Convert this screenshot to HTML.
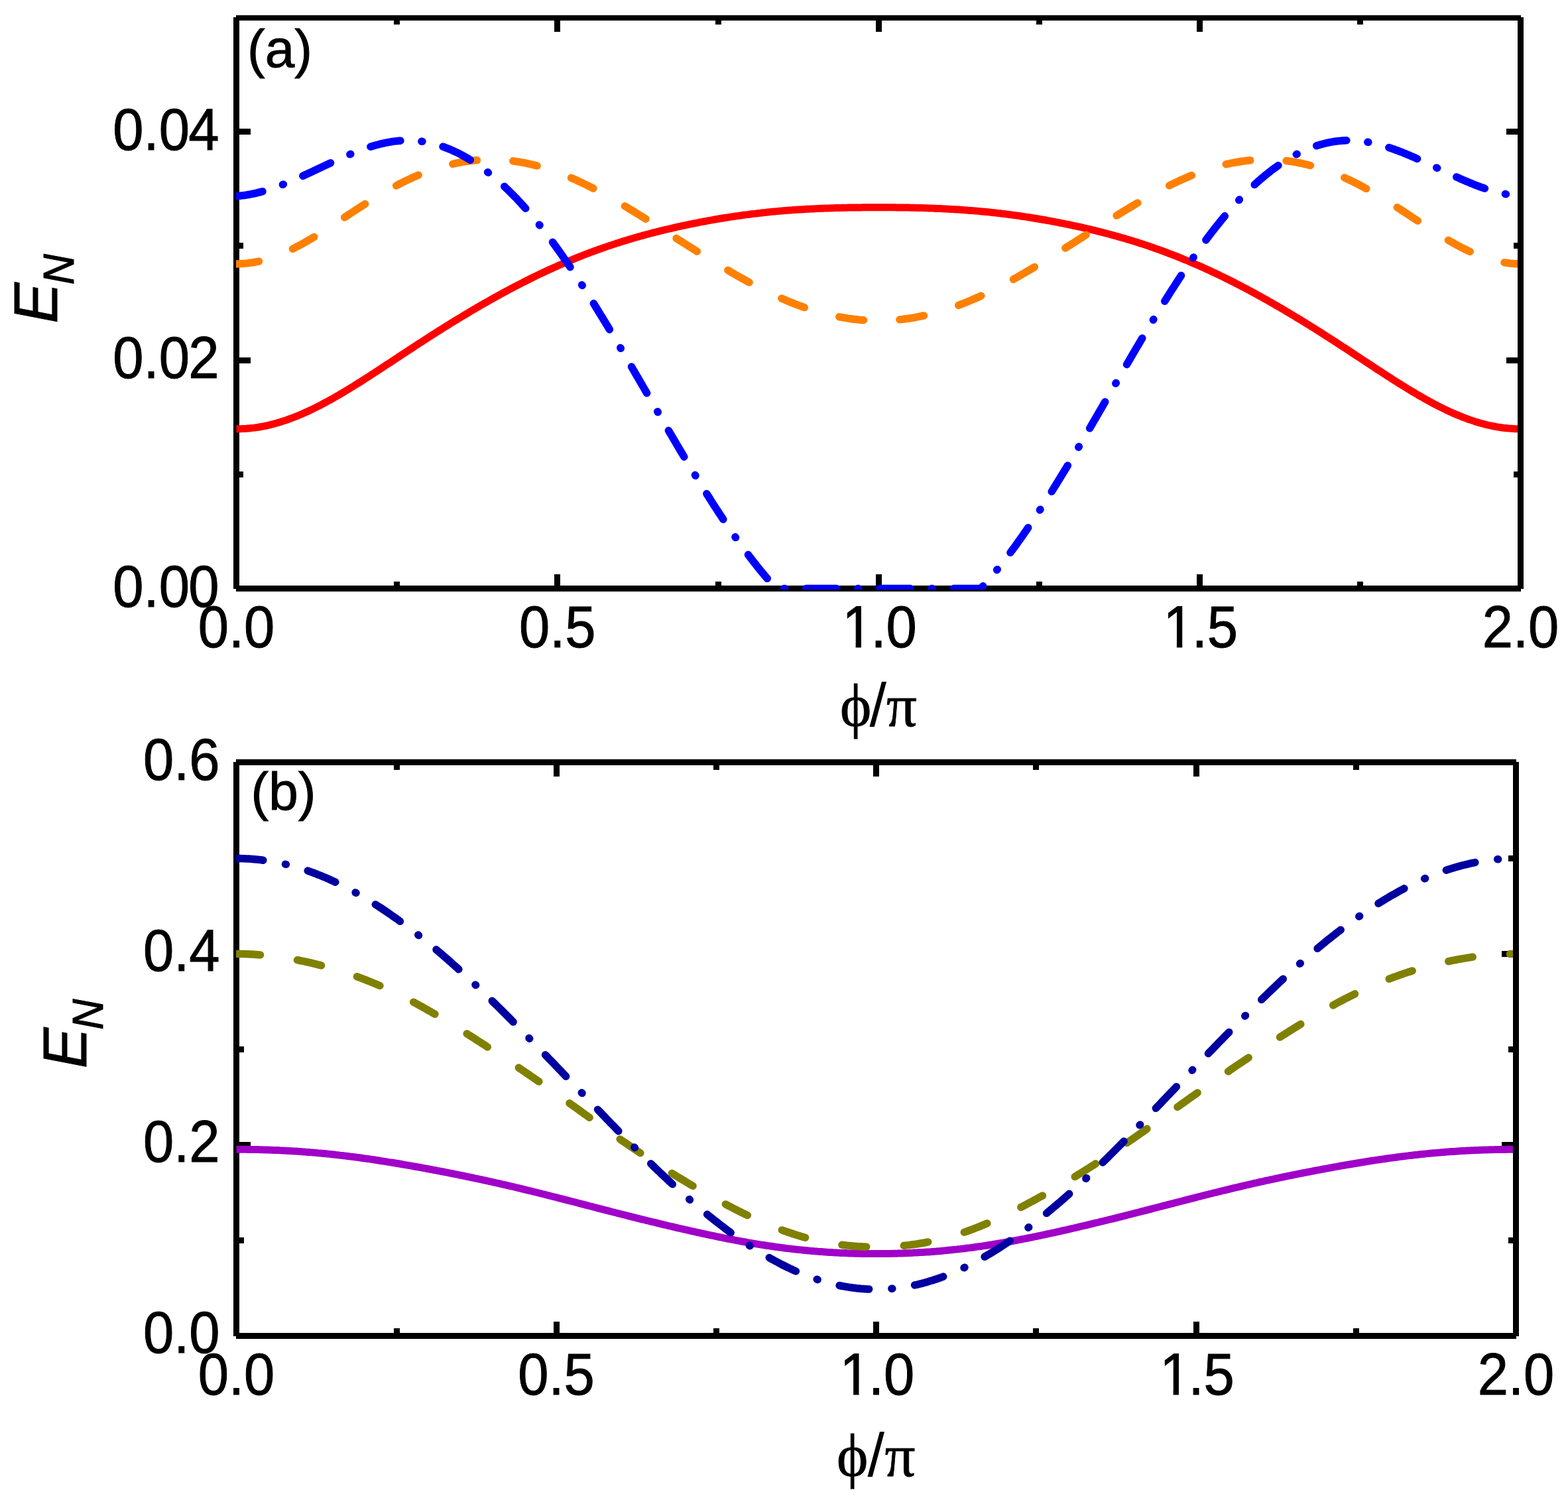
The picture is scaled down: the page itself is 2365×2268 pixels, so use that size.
<!DOCTYPE html>
<html><head><meta charset="utf-8"><title>E_N vs phi/pi</title>
<style>html,body{margin:0;padding:0;background:#fff;overflow:hidden}svg{display:block}.t{font-family:"Liberation Sans",Arial,sans-serif;fill:#000;stroke:#000;stroke-width:1px}.g{font-family:"Liberation Serif","Times New Roman",serif;fill:#000;stroke:#000;stroke-width:0.8px}</style></head><body>
<svg width="2365" height="2268" viewBox="0 0 2365 2268">
<rect width="2365" height="2268" fill="#fff"/>
<defs>
<clipPath id="ca"><rect x="356" y="26" width="1933" height="863"/></clipPath>
<clipPath id="cb"><rect x="356" y="1149" width="1926" height="867"/></clipPath>
<clipPath id="one"><path clip-rule="evenodd" d="M-200,-200H200V200H-200Z M-80,-7.9H-36.35V5H-80Z M-27.55,-7.9H-8V5H-27.55Z"/></clipPath>
</defs>
<g fill="#000"><rect x="356" y="23" width="1938" height="8"/><rect x="352" y="26" width="9" height="862"/><rect x="2289" y="26" width="9" height="862"/><rect x="356" y="883" width="1938" height="9"/><rect x="361" y="539" width="17" height="9"/><rect x="2272" y="539" width="17" height="9"/><rect x="361" y="194" width="17" height="9"/><rect x="2272" y="194" width="17" height="9"/><rect x="361" y="711" width="6" height="9"/><rect x="2283" y="711" width="6" height="9"/><rect x="361" y="366" width="6" height="9"/><rect x="2283" y="366" width="6" height="9"/><rect x="836" y="866" width="9" height="17"/><rect x="836" y="31" width="9" height="17"/><rect x="1321" y="866" width="9" height="17"/><rect x="1321" y="31" width="9" height="17"/><rect x="1805" y="866" width="9" height="17"/><rect x="1805" y="31" width="9" height="17"/><rect x="594" y="877" width="9" height="6"/><rect x="594" y="31" width="9" height="6"/><rect x="1079" y="877" width="9" height="6"/><rect x="1079" y="31" width="9" height="6"/><rect x="1563" y="877" width="9" height="6"/><rect x="1563" y="31" width="9" height="6"/><rect x="2047" y="877" width="9" height="6"/><rect x="2047" y="31" width="9" height="6"/></g>
<g fill="#000"><rect x="356" y="1145" width="1931" height="9"/><rect x="352" y="1149" width="9" height="866"/><rect x="2282" y="1149" width="9" height="866"/><rect x="356" y="2010" width="1931" height="9"/><rect x="361" y="1722" width="17" height="9"/><rect x="2265" y="1722" width="17" height="9"/><rect x="361" y="1434" width="17" height="9"/><rect x="2265" y="1434" width="17" height="9"/><rect x="361" y="1866" width="7" height="9"/><rect x="2275" y="1866" width="7" height="9"/><rect x="361" y="1578" width="7" height="9"/><rect x="2275" y="1578" width="7" height="9"/><rect x="361" y="1290" width="7" height="9"/><rect x="2275" y="1290" width="7" height="9"/><rect x="835" y="1993" width="9" height="17"/><rect x="835" y="1154" width="9" height="17"/><rect x="1317" y="1993" width="9" height="17"/><rect x="1317" y="1154" width="9" height="17"/><rect x="1800" y="1993" width="9" height="17"/><rect x="1800" y="1154" width="9" height="17"/><rect x="594" y="2003" width="9" height="7"/><rect x="594" y="1154" width="9" height="7"/><rect x="1076" y="2003" width="9" height="7"/><rect x="1076" y="1154" width="9" height="7"/><rect x="1558" y="2003" width="9" height="7"/><rect x="1558" y="1154" width="9" height="7"/><rect x="2041" y="2003" width="9" height="7"/><rect x="2041" y="1154" width="9" height="7"/></g>
<path clip-path="url(#ca)" d="M356.5,646.8 L359.5,646.8 L362.5,646.7 L365.5,646.6 L368.5,646.5 L371.5,646.3 L374.5,646.0 L377.5,645.7 L380.5,645.4 L383.5,645.1 L386.5,644.6 L389.5,644.2 L392.5,643.7 L395.5,643.2 L398.5,642.6 L401.5,642.0 L404.5,641.3 L407.5,640.6 L410.5,639.8 L413.5,639.1 L416.5,638.2 L419.5,637.4 L422.5,636.5 L425.5,635.5 L428.5,634.6 L431.5,633.6 L434.5,632.5 L437.5,631.4 L440.5,630.3 L443.5,629.2 L446.5,628.0 L449.5,626.8 L452.5,625.5 L455.5,624.2 L458.5,622.9 L461.5,621.6 L464.5,620.2 L467.5,618.8 L470.5,617.4 L473.5,615.9 L476.5,614.4 L479.5,612.9 L482.5,611.4 L485.5,609.8 L488.5,608.2 L491.5,606.6 L494.5,605.0 L497.5,603.3 L500.5,601.7 L503.5,600.0 L506.5,598.3 L509.5,596.5 L512.5,594.8 L515.5,593.0 L518.5,591.2 L521.5,589.4 L524.5,587.6 L527.5,585.8 L530.5,583.9 L533.5,582.1 L536.5,580.2 L539.5,578.3 L542.5,576.5 L545.5,574.6 L548.5,572.6 L551.5,570.7 L554.5,568.8 L557.5,566.9 L560.5,564.9 L563.5,563.0 L566.5,561.0 L569.5,559.1 L572.5,557.1 L575.5,555.2 L578.5,553.2 L581.5,551.2 L584.5,549.2 L587.5,547.3 L590.5,545.3 L593.5,543.3 L596.5,541.3 L599.5,539.4 L602.5,537.4 L605.5,535.4 L608.5,533.4 L611.5,531.5 L614.5,529.5 L617.5,527.5 L620.5,525.6 L623.5,523.6 L626.5,521.6 L629.5,519.7 L632.5,517.7 L635.5,515.8 L638.5,513.8 L641.5,511.9 L644.5,510.0 L647.5,508.0 L650.5,506.1 L653.5,504.2 L656.5,502.3 L659.5,500.4 L662.5,498.5 L665.5,496.6 L668.5,494.7 L671.5,492.8 L674.5,491.0 L677.5,489.1 L680.5,487.2 L683.5,485.4 L686.5,483.5 L689.5,481.7 L692.5,479.9 L695.5,478.1 L698.5,476.3 L701.5,474.5 L704.5,472.7 L707.5,470.9 L710.5,469.1 L713.5,467.3 L716.5,465.6 L719.5,463.8 L722.5,462.1 L725.5,460.3 L728.5,458.6 L731.5,456.9 L734.5,455.2 L737.5,453.5 L740.5,451.8 L743.5,450.1 L746.5,448.4 L749.5,446.8 L752.5,445.1 L755.5,443.5 L758.5,441.8 L761.5,440.2 L764.5,438.6 L767.5,437.0 L770.5,435.4 L773.5,433.8 L776.5,432.2 L779.5,430.7 L782.5,429.1 L785.5,427.6 L788.5,426.0 L791.5,424.5 L794.5,423.0 L797.5,421.5 L800.5,420.0 L803.5,418.5 L806.5,417.1 L809.5,415.6 L812.5,414.2 L815.5,412.7 L818.5,411.3 L821.5,409.9 L824.5,408.5 L827.5,407.1 L830.5,405.7 L833.5,404.4 L836.5,403.0 L839.5,401.7 L842.5,400.3 L845.5,399.0 L848.5,397.7 L851.5,396.4 L854.5,395.1 L857.5,393.9 L860.5,392.6 L863.5,391.4 L866.5,390.1 L869.5,388.9 L872.5,387.7 L875.5,386.5 L878.5,385.3 L881.5,384.2 L884.5,383.0 L887.5,381.9 L890.5,380.7 L893.5,379.6 L896.5,378.5 L899.5,377.4 L902.5,376.3 L905.5,375.3 L908.5,374.2 L911.5,373.2 L914.5,372.1 L917.5,371.1 L920.5,370.1 L923.5,369.1 L926.5,368.1 L929.5,367.1 L932.5,366.2 L935.5,365.2 L938.5,364.3 L941.5,363.3 L944.5,362.4 L947.5,361.5 L950.5,360.6 L953.5,359.7 L956.5,358.8 L959.5,358.0 L962.5,357.1 L965.5,356.3 L968.5,355.4 L971.5,354.6 L974.5,353.8 L977.5,353.0 L980.5,352.2 L983.5,351.4 L986.5,350.6 L989.5,349.9 L992.5,349.1 L995.5,348.4 L998.5,347.6 L1001.5,346.9 L1004.5,346.2 L1007.5,345.5 L1010.5,344.8 L1013.5,344.1 L1016.5,343.4 L1019.5,342.7 L1022.5,342.0 L1025.5,341.4 L1028.5,340.7 L1031.5,340.1 L1034.5,339.4 L1037.5,338.8 L1040.5,338.2 L1043.5,337.6 L1046.5,337.0 L1049.5,336.4 L1052.5,335.8 L1055.5,335.2 L1058.5,334.6 L1061.5,334.0 L1064.5,333.5 L1067.5,332.9 L1070.5,332.4 L1073.5,331.9 L1076.5,331.3 L1079.5,330.8 L1082.5,330.3 L1085.5,329.8 L1088.5,329.3 L1091.5,328.8 L1094.5,328.3 L1097.5,327.9 L1100.5,327.4 L1103.5,326.9 L1106.5,326.5 L1109.5,326.0 L1112.5,325.6 L1115.5,325.2 L1118.5,324.8 L1121.5,324.3 L1124.5,323.9 L1127.5,323.6 L1130.5,323.2 L1133.5,322.8 L1136.5,322.4 L1139.5,322.1 L1142.5,321.7 L1145.5,321.4 L1148.5,321.0 L1151.5,320.7 L1154.5,320.4 L1157.5,320.0 L1160.5,319.7 L1163.5,319.4 L1166.5,319.1 L1169.5,318.9 L1172.5,318.6 L1175.5,318.3 L1178.5,318.1 L1181.5,317.8 L1184.5,317.6 L1187.5,317.3 L1190.5,317.1 L1193.5,316.9 L1196.5,316.6 L1199.5,316.4 L1202.5,316.2 L1205.5,316.0 L1208.5,315.9 L1211.5,315.7 L1214.5,315.5 L1217.5,315.3 L1220.5,315.2 L1223.5,315.0 L1226.5,314.9 L1229.5,314.7 L1232.5,314.6 L1235.5,314.4 L1238.5,314.3 L1241.5,314.2 L1244.5,314.1 L1247.5,314.0 L1250.5,313.9 L1253.5,313.8 L1256.5,313.7 L1259.5,313.6 L1262.5,313.5 L1265.5,313.4 L1268.5,313.4 L1271.5,313.3 L1274.5,313.2 L1277.5,313.2 L1280.5,313.1 L1283.5,313.1 L1286.5,313.0 L1289.5,313.0 L1292.5,312.9 L1295.5,312.9 L1298.5,312.9 L1301.5,312.8 L1304.5,312.8 L1307.5,312.8 L1310.5,312.8 L1313.5,312.7 L1316.5,312.7 L1319.5,312.7 L1322.5,312.7 L1325.5,312.7 L1328.5,312.7 L1331.5,312.7 L1334.5,312.7 L1337.5,312.7 L1340.5,312.8 L1343.5,312.8 L1346.5,312.8 L1349.5,312.8 L1352.5,312.9 L1355.5,312.9 L1358.5,312.9 L1361.5,313.0 L1364.5,313.0 L1367.5,313.1 L1370.5,313.1 L1373.5,313.2 L1376.5,313.2 L1379.5,313.3 L1382.5,313.4 L1385.5,313.5 L1388.5,313.5 L1391.5,313.6 L1394.5,313.7 L1397.5,313.8 L1400.5,313.9 L1403.5,314.0 L1406.5,314.1 L1409.5,314.2 L1412.5,314.4 L1415.5,314.5 L1418.5,314.6 L1421.5,314.8 L1424.5,314.9 L1427.5,315.1 L1430.5,315.2 L1433.5,315.4 L1436.5,315.6 L1439.5,315.7 L1442.5,315.9 L1445.5,316.1 L1448.5,316.3 L1451.5,316.5 L1454.5,316.7 L1457.5,316.9 L1460.5,317.2 L1463.5,317.4 L1466.5,317.6 L1469.5,317.9 L1472.5,318.1 L1475.5,318.4 L1478.5,318.7 L1481.5,319.0 L1484.5,319.2 L1487.5,319.5 L1490.5,319.8 L1493.5,320.1 L1496.5,320.5 L1499.5,320.8 L1502.5,321.1 L1505.5,321.5 L1508.5,321.8 L1511.5,322.2 L1514.5,322.5 L1517.5,322.9 L1520.5,323.3 L1523.5,323.7 L1526.5,324.1 L1529.5,324.5 L1532.5,324.9 L1535.5,325.3 L1538.5,325.7 L1541.5,326.2 L1544.5,326.6 L1547.5,327.1 L1550.5,327.5 L1553.5,328.0 L1556.5,328.5 L1559.5,329.0 L1562.5,329.5 L1565.5,330.0 L1568.5,330.5 L1571.5,331.0 L1574.5,331.5 L1577.5,332.0 L1580.5,332.6 L1583.5,333.1 L1586.5,333.7 L1589.5,334.2 L1592.5,334.8 L1595.5,335.4 L1598.5,336.0 L1601.5,336.6 L1604.5,337.2 L1607.5,337.8 L1610.5,338.4 L1613.5,339.0 L1616.5,339.6 L1619.5,340.3 L1622.5,340.9 L1625.5,341.6 L1628.5,342.2 L1631.5,342.9 L1634.5,343.6 L1637.5,344.3 L1640.5,345.0 L1643.5,345.7 L1646.5,346.4 L1649.5,347.1 L1652.5,347.9 L1655.5,348.6 L1658.5,349.4 L1661.5,350.1 L1664.5,350.9 L1667.5,351.7 L1670.5,352.5 L1673.5,353.3 L1676.5,354.1 L1679.5,354.9 L1682.5,355.7 L1685.5,356.6 L1688.5,357.4 L1691.5,358.3 L1694.5,359.1 L1697.5,360.0 L1700.5,360.9 L1703.5,361.8 L1706.5,362.7 L1709.5,363.6 L1712.5,364.6 L1715.5,365.5 L1718.5,366.5 L1721.5,367.4 L1724.5,368.4 L1727.5,369.4 L1730.5,370.4 L1733.5,371.4 L1736.5,372.5 L1739.5,373.5 L1742.5,374.6 L1745.5,375.6 L1748.5,376.7 L1751.5,377.8 L1754.5,378.9 L1757.5,380.0 L1760.5,381.1 L1763.5,382.3 L1766.5,383.4 L1769.5,384.6 L1772.5,385.7 L1775.5,386.9 L1778.5,388.1 L1781.5,389.3 L1784.5,390.6 L1787.5,391.8 L1790.5,393.0 L1793.5,394.3 L1796.5,395.6 L1799.5,396.9 L1802.5,398.2 L1805.5,399.5 L1808.5,400.8 L1811.5,402.1 L1814.5,403.5 L1817.5,404.8 L1820.5,406.2 L1823.5,407.6 L1826.5,409.0 L1829.5,410.4 L1832.5,411.8 L1835.5,413.2 L1838.5,414.6 L1841.5,416.1 L1844.5,417.6 L1847.5,419.0 L1850.5,420.5 L1853.5,422.0 L1856.5,423.5 L1859.5,425.0 L1862.5,426.5 L1865.5,428.1 L1868.5,429.6 L1871.5,431.2 L1874.5,432.8 L1877.5,434.3 L1880.5,435.9 L1883.5,437.5 L1886.5,439.1 L1889.5,440.7 L1892.5,442.4 L1895.5,444.0 L1898.5,445.7 L1901.5,447.3 L1904.5,449.0 L1907.5,450.7 L1910.5,452.3 L1913.5,454.0 L1916.5,455.7 L1919.5,457.5 L1922.5,459.2 L1925.5,460.9 L1928.5,462.6 L1931.5,464.4 L1934.5,466.1 L1937.5,467.9 L1940.5,469.7 L1943.5,471.5 L1946.5,473.3 L1949.5,475.1 L1952.5,476.9 L1955.5,478.7 L1958.5,480.5 L1961.5,482.3 L1964.5,484.2 L1967.5,486.0 L1970.5,487.9 L1973.5,489.7 L1976.5,491.6 L1979.5,493.5 L1982.5,495.3 L1985.5,497.2 L1988.5,499.1 L1991.5,501.0 L1994.5,502.9 L1997.5,504.8 L2000.5,506.8 L2003.5,508.7 L2006.5,510.6 L2009.5,512.5 L2012.5,514.5 L2015.5,516.4 L2018.5,518.4 L2021.5,520.3 L2024.5,522.3 L2027.5,524.2 L2030.5,526.2 L2033.5,528.2 L2036.5,530.1 L2039.5,532.1 L2042.5,534.1 L2045.5,536.1 L2048.5,538.0 L2051.5,540.0 L2054.5,542.0 L2057.5,544.0 L2060.5,546.0 L2063.5,547.9 L2066.5,549.9 L2069.5,551.9 L2072.5,553.8 L2075.5,555.8 L2078.5,557.8 L2081.5,559.7 L2084.5,561.7 L2087.5,563.6 L2090.5,565.6 L2093.5,567.5 L2096.5,569.4 L2099.5,571.4 L2102.5,573.3 L2105.5,575.2 L2108.5,577.1 L2111.5,579.0 L2114.5,580.8 L2117.5,582.7 L2120.5,584.6 L2123.5,586.4 L2126.5,588.2 L2129.5,590.0 L2132.5,591.8 L2135.5,593.6 L2138.5,595.4 L2141.5,597.1 L2144.5,598.8 L2147.5,600.5 L2150.5,602.2 L2153.5,603.9 L2156.5,605.5 L2159.5,607.2 L2162.5,608.8 L2165.5,610.3 L2168.5,611.9 L2171.5,613.4 L2174.5,614.9 L2177.5,616.4 L2180.5,617.9 L2183.5,619.3 L2186.5,620.7 L2189.5,622.0 L2192.5,623.4 L2195.5,624.7 L2198.5,625.9 L2201.5,627.2 L2204.5,628.4 L2207.5,629.6 L2210.5,630.7 L2213.5,631.8 L2216.5,632.9 L2219.5,633.9 L2222.5,634.9 L2225.5,635.9 L2228.5,636.8 L2231.5,637.7 L2234.5,638.5 L2237.5,639.3 L2240.5,640.1 L2243.5,640.8 L2246.5,641.5 L2249.5,642.2 L2252.5,642.8 L2255.5,643.3 L2258.5,643.9 L2261.5,644.3 L2264.5,644.8 L2267.5,645.2 L2270.5,645.5 L2273.5,645.8 L2276.5,646.1 L2279.5,646.3 L2282.5,646.5 L2285.5,646.7 L2288.5,646.8 L2291.5,646.8 L2293.5,646.8" fill="none" stroke="#ff0000" stroke-width="11" stroke-linejoin="round" stroke-linecap="butt"/>
<path clip-path="url(#ca)" d="M356.5,397.9 L359.5,397.9 L362.5,397.8 L365.5,397.6 L368.5,397.4 L371.5,397.1 L374.5,396.8 L377.5,396.4 L380.5,396.0 L383.5,395.5 L386.5,394.9 L389.5,394.3 L392.5,393.6 L395.5,392.9 L398.5,392.1 L401.5,391.2 L404.5,390.3 L407.5,389.4 L410.5,388.4 L413.5,387.3 L416.5,386.2 L419.5,385.1 L422.5,383.9 L425.5,382.6 L428.5,381.4 L431.5,380.0 L434.5,378.6 L437.5,377.2 L440.5,375.8 L443.5,374.3 L446.5,372.7 L449.5,371.2 L452.5,369.6 L455.5,367.9 L458.5,366.3 L461.5,364.6 L464.5,362.8 L467.5,361.1 L470.5,359.3 L473.5,357.5 L476.5,355.7 L479.5,353.8 L482.5,351.9 L485.5,350.1 L488.5,348.2 L491.5,346.2 L494.5,344.3 L497.5,342.4 L500.5,340.4 L503.5,338.5 L506.5,336.5 L509.5,334.5 L512.5,332.5 L515.5,330.6 L518.5,328.6 L521.5,326.6 L524.5,324.6 L527.5,322.6 L530.5,320.7 L533.5,318.7 L536.5,316.7 L539.5,314.8 L542.5,312.8 L545.5,310.9 L548.5,309.0 L551.5,307.1 L554.5,305.2 L557.5,303.3 L560.5,301.4 L563.5,299.6 L566.5,297.7 L569.5,295.9 L572.5,294.1 L575.5,292.3 L578.5,290.6 L581.5,288.9 L584.5,287.2 L587.5,285.5 L590.5,283.8 L593.5,282.2 L596.5,280.6 L599.5,279.0 L602.5,277.4 L605.5,275.9 L608.5,274.4 L611.5,272.9 L614.5,271.5 L617.5,270.1 L620.5,268.7 L623.5,267.3 L626.5,266.0 L629.5,264.7 L632.5,263.5 L635.5,262.2 L638.5,261.0 L641.5,259.9 L644.5,258.7 L647.5,257.7 L650.5,256.6 L653.5,255.6 L656.5,254.6 L659.5,253.6 L662.5,252.7 L665.5,251.8 L668.5,250.9 L671.5,250.1 L674.5,249.3 L677.5,248.5 L680.5,247.8 L683.5,247.1 L686.5,246.4 L689.5,245.8 L692.5,245.2 L695.5,244.7 L698.5,244.2 L701.5,243.7 L704.5,243.2 L707.5,242.8 L710.5,242.5 L713.5,242.1 L716.5,241.8 L719.5,241.6 L722.5,241.3 L725.5,241.1 L728.5,241.0 L731.5,240.8 L734.5,240.7 L737.5,240.7 L740.5,240.7 L743.5,240.7 L746.5,240.7 L749.5,240.8 L752.5,241.0 L755.5,241.1 L758.5,241.3 L761.5,241.5 L764.5,241.8 L767.5,242.1 L770.5,242.4 L773.5,242.8 L776.5,243.2 L779.5,243.6 L782.5,244.1 L785.5,244.6 L788.5,245.2 L791.5,245.7 L794.5,246.4 L797.5,247.0 L800.5,247.7 L803.5,248.4 L806.5,249.1 L809.5,249.9 L812.5,250.7 L815.5,251.6 L818.5,252.4 L821.5,253.3 L824.5,254.3 L827.5,255.2 L830.5,256.2 L833.5,257.3 L836.5,258.3 L839.5,259.4 L842.5,260.5 L845.5,261.7 L848.5,262.8 L851.5,264.0 L854.5,265.3 L857.5,266.5 L860.5,267.8 L863.5,269.1 L866.5,270.4 L869.5,271.8 L872.5,273.2 L875.5,274.6 L878.5,276.0 L881.5,277.4 L884.5,278.9 L887.5,280.4 L890.5,281.9 L893.5,283.4 L896.5,285.0 L899.5,286.6 L902.5,288.2 L905.5,289.8 L908.5,291.4 L911.5,293.0 L914.5,294.7 L917.5,296.4 L920.5,298.1 L923.5,299.8 L926.5,301.5 L929.5,303.2 L932.5,305.0 L935.5,306.7 L938.5,308.5 L941.5,310.3 L944.5,312.1 L947.5,313.9 L950.5,315.7 L953.5,317.5 L956.5,319.3 L959.5,321.2 L962.5,323.0 L965.5,324.9 L968.5,326.7 L971.5,328.6 L974.5,330.5 L977.5,332.4 L980.5,334.2 L983.5,336.1 L986.5,338.0 L989.5,339.9 L992.5,341.8 L995.5,343.7 L998.5,345.6 L1001.5,347.5 L1004.5,349.4 L1007.5,351.3 L1010.5,353.3 L1013.5,355.2 L1016.5,357.1 L1019.5,359.0 L1022.5,360.9 L1025.5,362.8 L1028.5,364.7 L1031.5,366.6 L1034.5,368.5 L1037.5,370.4 L1040.5,372.3 L1043.5,374.2 L1046.5,376.1 L1049.5,378.0 L1052.5,379.9 L1055.5,381.8 L1058.5,383.6 L1061.5,385.5 L1064.5,387.4 L1067.5,389.2 L1070.5,391.1 L1073.5,392.9 L1076.5,394.8 L1079.5,396.6 L1082.5,398.4 L1085.5,400.2 L1088.5,402.0 L1091.5,403.8 L1094.5,405.6 L1097.5,407.4 L1100.5,409.1 L1103.5,410.9 L1106.5,412.6 L1109.5,414.4 L1112.5,416.1 L1115.5,417.8 L1118.5,419.5 L1121.5,421.1 L1124.5,422.8 L1127.5,424.5 L1130.5,426.1 L1133.5,427.7 L1136.5,429.3 L1139.5,430.9 L1142.5,432.5 L1145.5,434.0 L1148.5,435.6 L1151.5,437.1 L1154.5,438.6 L1157.5,440.0 L1160.5,441.5 L1163.5,442.9 L1166.5,444.4 L1169.5,445.8 L1172.5,447.1 L1175.5,448.5 L1178.5,449.8 L1181.5,451.2 L1184.5,452.4 L1187.5,453.7 L1190.5,455.0 L1193.5,456.2 L1196.5,457.4 L1199.5,458.6 L1202.5,459.7 L1205.5,460.8 L1208.5,461.9 L1211.5,463.0 L1214.5,464.1 L1217.5,465.1 L1220.5,466.1 L1223.5,467.1 L1226.5,468.0 L1229.5,468.9 L1232.5,469.8 L1235.5,470.7 L1238.5,471.5 L1241.5,472.3 L1244.5,473.1 L1247.5,473.9 L1250.5,474.6 L1253.5,475.3 L1256.5,476.0 L1259.5,476.6 L1262.5,477.2 L1265.5,477.8 L1268.5,478.4 L1271.5,478.9 L1274.5,479.4 L1277.5,479.9 L1280.5,480.4 L1283.5,480.8 L1286.5,481.2 L1289.5,481.5 L1292.5,481.8 L1295.5,482.2 L1298.5,482.4 L1301.5,482.7 L1304.5,482.9 L1307.5,483.1 L1310.5,483.2 L1313.5,483.3 L1316.5,483.4 L1319.5,483.5 L1322.5,483.6 L1325.5,483.6 L1328.5,483.5 L1331.5,483.5 L1334.5,483.4 L1337.5,483.3 L1340.5,483.2 L1343.5,483.0 L1346.5,482.8 L1349.5,482.6 L1352.5,482.3 L1355.5,482.1 L1358.5,481.7 L1361.5,481.4 L1364.5,481.0 L1367.5,480.6 L1370.5,480.2 L1373.5,479.8 L1376.5,479.3 L1379.5,478.8 L1382.5,478.2 L1385.5,477.6 L1388.5,477.0 L1391.5,476.4 L1394.5,475.8 L1397.5,475.1 L1400.5,474.4 L1403.5,473.6 L1406.5,472.9 L1409.5,472.1 L1412.5,471.3 L1415.5,470.4 L1418.5,469.5 L1421.5,468.6 L1424.5,467.7 L1427.5,466.7 L1430.5,465.8 L1433.5,464.7 L1436.5,463.7 L1439.5,462.7 L1442.5,461.6 L1445.5,460.5 L1448.5,459.3 L1451.5,458.2 L1454.5,457.0 L1457.5,455.8 L1460.5,454.5 L1463.5,453.3 L1466.5,452.0 L1469.5,450.7 L1472.5,449.4 L1475.5,448.1 L1478.5,446.7 L1481.5,445.3 L1484.5,443.9 L1487.5,442.5 L1490.5,441.0 L1493.5,439.6 L1496.5,438.1 L1499.5,436.6 L1502.5,435.0 L1505.5,433.5 L1508.5,431.9 L1511.5,430.4 L1514.5,428.8 L1517.5,427.2 L1520.5,425.5 L1523.5,423.9 L1526.5,422.3 L1529.5,420.6 L1532.5,418.9 L1535.5,417.2 L1538.5,415.5 L1541.5,413.8 L1544.5,412.1 L1547.5,410.3 L1550.5,408.6 L1553.5,406.8 L1556.5,405.0 L1559.5,403.2 L1562.5,401.4 L1565.5,399.6 L1568.5,397.8 L1571.5,396.0 L1574.5,394.2 L1577.5,392.3 L1580.5,390.5 L1583.5,388.6 L1586.5,386.8 L1589.5,384.9 L1592.5,383.0 L1595.5,381.1 L1598.5,379.3 L1601.5,377.4 L1604.5,375.5 L1607.5,373.6 L1610.5,371.7 L1613.5,369.8 L1616.5,367.9 L1619.5,366.0 L1622.5,364.1 L1625.5,362.2 L1628.5,360.3 L1631.5,358.4 L1634.5,356.4 L1637.5,354.5 L1640.5,352.6 L1643.5,350.7 L1646.5,348.8 L1649.5,346.9 L1652.5,345.0 L1655.5,343.1 L1658.5,341.2 L1661.5,339.3 L1664.5,337.4 L1667.5,335.5 L1670.5,333.6 L1673.5,331.7 L1676.5,329.9 L1679.5,328.0 L1682.5,326.1 L1685.5,324.3 L1688.5,322.4 L1691.5,320.6 L1694.5,318.7 L1697.5,316.9 L1700.5,315.1 L1703.5,313.3 L1706.5,311.5 L1709.5,309.7 L1712.5,307.9 L1715.5,306.1 L1718.5,304.4 L1721.5,302.6 L1724.5,300.9 L1727.5,299.2 L1730.5,297.5 L1733.5,295.8 L1736.5,294.1 L1739.5,292.5 L1742.5,290.8 L1745.5,289.2 L1748.5,287.6 L1751.5,286.0 L1754.5,284.5 L1757.5,282.9 L1760.5,281.4 L1763.5,279.9 L1766.5,278.4 L1769.5,276.9 L1772.5,275.5 L1775.5,274.1 L1778.5,272.7 L1781.5,271.3 L1784.5,270.0 L1787.5,268.7 L1790.5,267.4 L1793.5,266.1 L1796.5,264.8 L1799.5,263.6 L1802.5,262.4 L1805.5,261.3 L1808.5,260.1 L1811.5,259.0 L1814.5,258.0 L1817.5,256.9 L1820.5,255.9 L1823.5,254.9 L1826.5,254.0 L1829.5,253.0 L1832.5,252.1 L1835.5,251.3 L1838.5,250.4 L1841.5,249.6 L1844.5,248.9 L1847.5,248.1 L1850.5,247.4 L1853.5,246.8 L1856.5,246.2 L1859.5,245.6 L1862.5,245.0 L1865.5,244.5 L1868.5,244.0 L1871.5,243.5 L1874.5,243.1 L1877.5,242.7 L1880.5,242.3 L1883.5,242.0 L1886.5,241.7 L1889.5,241.5 L1892.5,241.2 L1895.5,241.1 L1898.5,240.9 L1901.5,240.8 L1904.5,240.7 L1907.5,240.7 L1910.5,240.7 L1913.5,240.7 L1916.5,240.8 L1919.5,240.9 L1922.5,241.0 L1925.5,241.2 L1928.5,241.4 L1931.5,241.6 L1934.5,241.9 L1937.5,242.2 L1940.5,242.6 L1943.5,243.0 L1946.5,243.4 L1949.5,243.8 L1952.5,244.3 L1955.5,244.9 L1958.5,245.4 L1961.5,246.0 L1964.5,246.7 L1967.5,247.3 L1970.5,248.0 L1973.5,248.8 L1976.5,249.5 L1979.5,250.3 L1982.5,251.2 L1985.5,252.1 L1988.5,253.0 L1991.5,253.9 L1994.5,254.9 L1997.5,255.9 L2000.5,256.9 L2003.5,258.0 L2006.5,259.1 L2009.5,260.3 L2012.5,261.4 L2015.5,262.6 L2018.5,263.9 L2021.5,265.2 L2024.5,266.5 L2027.5,267.8 L2030.5,269.2 L2033.5,270.5 L2036.5,272.0 L2039.5,273.4 L2042.5,274.9 L2045.5,276.4 L2048.5,277.9 L2051.5,279.5 L2054.5,281.1 L2057.5,282.7 L2060.5,284.4 L2063.5,286.0 L2066.5,287.7 L2069.5,289.4 L2072.5,291.2 L2075.5,292.9 L2078.5,294.7 L2081.5,296.5 L2084.5,298.3 L2087.5,300.2 L2090.5,302.0 L2093.5,303.9 L2096.5,305.8 L2099.5,307.7 L2102.5,309.6 L2105.5,311.5 L2108.5,313.5 L2111.5,315.4 L2114.5,317.4 L2117.5,319.4 L2120.5,321.3 L2123.5,323.3 L2126.5,325.3 L2129.5,327.3 L2132.5,329.2 L2135.5,331.2 L2138.5,333.2 L2141.5,335.2 L2144.5,337.2 L2147.5,339.1 L2150.5,341.1 L2153.5,343.0 L2156.5,345.0 L2159.5,346.9 L2162.5,348.8 L2165.5,350.7 L2168.5,352.6 L2171.5,354.4 L2174.5,356.3 L2177.5,358.1 L2180.5,359.9 L2183.5,361.7 L2186.5,363.4 L2189.5,365.1 L2192.5,366.8 L2195.5,368.5 L2198.5,370.1 L2201.5,371.7 L2204.5,373.3 L2207.5,374.8 L2210.5,376.3 L2213.5,377.7 L2216.5,379.1 L2219.5,380.5 L2222.5,381.8 L2225.5,383.1 L2228.5,384.3 L2231.5,385.5 L2234.5,386.6 L2237.5,387.7 L2240.5,388.7 L2243.5,389.7 L2246.5,390.6 L2249.5,391.5 L2252.5,392.3 L2255.5,393.1 L2258.5,393.8 L2261.5,394.5 L2264.5,395.1 L2267.5,395.6 L2270.5,396.1 L2273.5,396.5 L2276.5,396.9 L2279.5,397.2 L2282.5,397.5 L2285.5,397.7 L2288.5,397.8 L2291.5,397.9 L2293.5,397.9" fill="none" stroke="#ff8000" stroke-width="11.5" stroke-linejoin="round" stroke-dasharray="37 54.55" stroke-dashoffset="2.83" stroke-linecap="round"/>
<path clip-path="url(#ca)" d="M356.5,295.6 L358.5,295.5 L360.5,295.3 L362.5,295.2 L364.5,294.9 L366.5,294.7 L368.5,294.5 L370.5,294.2 L372.5,293.9 L374.5,293.5 L376.5,293.2 L378.5,292.8 L380.5,292.4 L382.5,292.0 L384.5,291.6 L386.5,291.1 L388.5,290.6 L390.5,290.1 L392.5,289.6 L394.5,289.1 L396.5,288.5 L398.5,287.9 L400.5,287.4 L402.5,286.7 L404.5,286.1 L406.5,285.5 L408.5,284.8 L410.5,284.2 L412.5,283.5 L414.5,282.8 L416.5,282.1 L418.5,281.3 L420.5,280.6 L422.5,279.8 L424.5,279.1 L426.5,278.3 L428.5,277.5 L430.5,276.7 L432.5,275.9 L434.5,275.0 L436.5,274.2 L438.5,273.4 L440.5,272.5 L442.5,271.7 L444.5,270.8 L446.5,269.9 L448.5,269.0 L450.5,268.1 L452.5,267.2 L454.5,266.3 L456.5,265.4 L458.5,264.5 L460.5,263.6 L462.5,262.7 L464.5,261.7 L466.5,260.8 L468.5,259.9 L470.5,258.9 L472.5,258.0 L474.5,257.1 L476.5,256.1 L478.5,255.2 L480.5,254.2 L482.5,253.3 L484.5,252.3 L486.5,251.4 L488.5,250.4 L490.5,249.5 L492.5,248.6 L494.5,247.6 L496.5,246.7 L498.5,245.8 L500.5,244.8 L502.5,243.9 L504.5,243.0 L506.5,242.1 L508.5,241.2 L510.5,240.3 L512.5,239.4 L514.5,238.5 L516.5,237.6 L518.5,236.7 L520.5,235.9 L522.5,235.0 L524.5,234.1 L526.5,233.3 L528.5,232.5 L530.5,231.6 L532.5,230.8 L534.5,230.0 L536.5,229.2 L538.5,228.5 L540.5,227.7 L542.5,226.9 L544.5,226.2 L546.5,225.5 L548.5,224.8 L550.5,224.1 L552.5,223.4 L554.5,222.7 L556.5,222.1 L558.5,221.4 L560.5,220.8 L562.5,220.2 L564.5,219.6 L566.5,219.0 L568.5,218.5 L570.5,218.0 L572.5,217.4 L574.5,216.9 L576.5,216.5 L578.5,216.0 L580.5,215.6 L582.5,215.2 L584.5,214.8 L586.5,214.4 L588.5,214.1 L590.5,213.7 L592.5,213.4 L594.5,213.1 L596.5,212.9 L598.5,212.7 L600.5,212.5 L602.5,212.3 L604.5,212.1 L606.5,212.0 L608.5,211.9 L610.5,211.8 L612.5,211.8 L614.5,211.7 L616.5,211.7 L618.5,211.8 L620.5,211.8 L622.5,211.9 L624.5,212.0 L626.5,212.2 L628.5,212.4 L630.5,212.5 L632.5,212.8 L634.5,213.0 L636.5,213.3 L638.5,213.6 L640.5,213.9 L642.5,214.3 L644.5,214.7 L646.5,215.1 L648.5,215.5 L650.5,216.0 L652.5,216.5 L654.5,217.0 L656.5,217.5 L658.5,218.1 L660.5,218.7 L662.5,219.3 L664.5,219.9 L666.5,220.6 L668.5,221.3 L670.5,222.0 L672.5,222.8 L674.5,223.6 L676.5,224.4 L678.5,225.2 L680.5,226.0 L682.5,226.9 L684.5,227.8 L686.5,228.8 L688.5,229.7 L690.5,230.7 L692.5,231.7 L694.5,232.7 L696.5,233.8 L698.5,234.9 L700.5,236.0 L702.5,237.1 L704.5,238.3 L706.5,239.5 L708.5,240.7 L710.5,241.9 L712.5,243.2 L714.5,244.5 L716.5,245.8 L718.5,247.1 L720.5,248.5 L722.5,249.9 L724.5,251.3 L726.5,252.8 L728.5,254.2 L730.5,255.7 L732.5,257.2 L734.5,258.8 L736.5,260.3 L738.5,261.9 L740.5,263.5 L742.5,265.2 L744.5,266.8 L746.5,268.5 L748.5,270.2 L750.5,272.0 L752.5,273.7 L754.5,275.5 L756.5,277.3 L758.5,279.2 L760.5,281.0 L762.5,282.9 L764.5,284.8 L766.5,286.7 L768.5,288.7 L770.5,290.7 L772.5,292.7 L774.5,294.7 L776.5,296.8 L778.5,298.8 L780.5,300.9 L782.5,303.1 L784.5,305.2 L786.5,307.4 L788.5,309.6 L790.5,311.8 L792.5,314.0 L794.5,316.3 L796.5,318.6 L798.5,320.9 L800.5,323.3 L802.5,325.6 L804.5,328.0 L806.5,330.4 L808.5,332.8 L810.5,335.3 L812.5,337.8 L814.5,340.3 L816.5,342.8 L818.5,345.4 L820.5,347.9 L822.5,350.5 L824.5,353.1 L826.5,355.8 L828.5,358.4 L830.5,361.1 L832.5,363.8 L834.5,366.5 L836.5,369.3 L838.5,372.0 L840.5,374.8 L842.5,377.6 L844.5,380.4 L846.5,383.3 L848.5,386.1 L850.5,389.0 L852.5,391.9 L854.5,394.8 L856.5,397.7 L858.5,400.6 L860.5,403.6 L862.5,406.6 L864.5,409.6 L866.5,412.6 L868.5,415.6 L870.5,418.6 L872.5,421.7 L874.5,424.8 L876.5,427.9 L878.5,431.0 L880.5,434.1 L882.5,437.2 L884.5,440.3 L886.5,443.5 L888.5,446.6 L890.5,449.8 L892.5,453.0 L894.5,456.2 L896.5,459.4 L898.5,462.7 L900.5,465.9 L902.5,469.1 L904.5,472.4 L906.5,475.7 L908.5,478.9 L910.5,482.2 L912.5,485.5 L914.5,488.8 L916.5,492.1 L918.5,495.5 L920.5,498.8 L922.5,502.1 L924.5,505.5 L926.5,508.8 L928.5,512.2 L930.5,515.6 L932.5,519.0 L934.5,522.3 L936.5,525.7 L938.5,529.1 L940.5,532.5 L942.5,535.9 L944.5,539.3 L946.5,542.8 L948.5,546.2 L950.5,549.6 L952.5,553.0 L954.5,556.5 L956.5,559.9 L958.5,563.3 L960.5,566.8 L962.5,570.2 L964.5,573.7 L966.5,577.1 L968.5,580.5 L970.5,584.0 L972.5,587.4 L974.5,590.9 L976.5,594.3 L978.5,597.8 L980.5,601.3 L982.5,604.7 L984.5,608.2 L986.5,611.6 L988.5,615.1 L990.5,618.5 L992.5,621.9 L994.5,625.4 L996.5,628.8 L998.5,632.3 L1000.5,635.7 L1002.5,639.1 L1004.5,642.6 L1006.5,646.0 L1008.5,649.4 L1010.5,652.8 L1012.5,656.2 L1014.5,659.6 L1016.5,663.0 L1018.5,666.4 L1020.5,669.8 L1022.5,673.2 L1024.5,676.6 L1026.5,680.0 L1028.5,683.3 L1030.5,686.7 L1032.5,690.0 L1034.5,693.4 L1036.5,696.7 L1038.5,700.0 L1040.5,703.4 L1042.5,706.7 L1044.5,710.0 L1046.5,713.3 L1048.5,716.5 L1050.5,719.8 L1052.5,723.1 L1054.5,726.3 L1056.5,729.6 L1058.5,732.8 L1060.5,736.0 L1062.5,739.2 L1064.5,742.4 L1066.5,745.6 L1068.5,748.7 L1070.5,751.9 L1072.5,755.0 L1074.5,758.2 L1076.5,761.3 L1078.5,764.4 L1080.5,767.5 L1082.5,770.5 L1084.5,773.6 L1086.5,776.6 L1088.5,779.7 L1090.5,782.7 L1092.5,785.7 L1094.5,788.7 L1096.5,791.6 L1098.5,794.6 L1100.5,797.5 L1102.5,800.4 L1104.5,803.3 L1106.5,806.2 L1108.5,809.1 L1110.5,811.9 L1112.5,814.7 L1114.5,817.5 L1116.5,820.3 L1118.5,823.1 L1120.5,825.8 L1122.5,828.5 L1124.5,831.2 L1126.5,833.9 L1128.5,836.6 L1130.5,839.2 L1132.5,841.8 L1134.5,844.4 L1136.5,847.0 L1138.5,849.6 L1140.5,852.1 L1142.5,854.6 L1144.5,857.1 L1146.5,859.6 L1148.5,862.0 L1150.5,864.4 L1152.5,866.8 L1154.5,869.2 L1156.5,871.5 L1158.5,873.8 L1160.5,876.1 L1162.5,878.4 L1164.5,880.6 L1166.5,882.8 L1168.5,885.0 L1170.5,887.2 L1170.8,887.5 L1479.2,887.5 L1479.5,887.2 L1481.5,885.0 L1483.5,882.8 L1485.5,880.6 L1487.5,878.4 L1489.5,876.1 L1491.5,873.8 L1493.5,871.5 L1495.5,869.2 L1497.5,866.8 L1499.5,864.4 L1501.5,862.0 L1503.5,859.6 L1505.5,857.1 L1507.5,854.6 L1509.5,852.1 L1511.5,849.6 L1513.5,847.0 L1515.5,844.4 L1517.5,841.8 L1519.5,839.2 L1521.5,836.6 L1523.5,833.9 L1525.5,831.2 L1527.5,828.5 L1529.5,825.8 L1531.5,823.1 L1533.5,820.3 L1535.5,817.5 L1537.5,814.7 L1539.5,811.9 L1541.5,809.1 L1543.5,806.2 L1545.5,803.3 L1547.5,800.4 L1549.5,797.5 L1551.5,794.6 L1553.5,791.6 L1555.5,788.7 L1557.5,785.7 L1559.5,782.7 L1561.5,779.7 L1563.5,776.6 L1565.5,773.6 L1567.5,770.5 L1569.5,767.5 L1571.5,764.4 L1573.5,761.3 L1575.5,758.2 L1577.5,755.0 L1579.5,751.9 L1581.5,748.7 L1583.5,745.6 L1585.5,742.4 L1587.5,739.2 L1589.5,736.0 L1591.5,732.8 L1593.5,729.6 L1595.5,726.3 L1597.5,723.1 L1599.5,719.8 L1601.5,716.5 L1603.5,713.3 L1605.5,710.0 L1607.5,706.7 L1609.5,703.4 L1611.5,700.0 L1613.5,696.7 L1615.5,693.4 L1617.5,690.0 L1619.5,686.7 L1621.5,683.3 L1623.5,680.0 L1625.5,676.6 L1627.5,673.2 L1629.5,669.8 L1631.5,666.4 L1633.5,663.0 L1635.5,659.6 L1637.5,656.2 L1639.5,652.8 L1641.5,649.4 L1643.5,646.0 L1645.5,642.6 L1647.5,639.1 L1649.5,635.7 L1651.5,632.3 L1653.5,628.8 L1655.5,625.4 L1657.5,621.9 L1659.5,618.5 L1661.5,615.1 L1663.5,611.6 L1665.5,608.2 L1667.5,604.7 L1669.5,601.3 L1671.5,597.8 L1673.5,594.3 L1675.5,590.9 L1677.5,587.4 L1679.5,584.0 L1681.5,580.5 L1683.5,577.1 L1685.5,573.7 L1687.5,570.2 L1689.5,566.8 L1691.5,563.3 L1693.5,559.9 L1695.5,556.5 L1697.5,553.0 L1699.5,549.6 L1701.5,546.2 L1703.5,542.8 L1705.5,539.3 L1707.5,535.9 L1709.5,532.5 L1711.5,529.1 L1713.5,525.7 L1715.5,522.3 L1717.5,519.0 L1719.5,515.6 L1721.5,512.2 L1723.5,508.8 L1725.5,505.5 L1727.5,502.1 L1729.5,498.8 L1731.5,495.5 L1733.5,492.1 L1735.5,488.8 L1737.5,485.5 L1739.5,482.2 L1741.5,478.9 L1743.5,475.7 L1745.5,472.4 L1747.5,469.1 L1749.5,465.9 L1751.5,462.7 L1753.5,459.4 L1755.5,456.2 L1757.5,453.0 L1759.5,449.8 L1761.5,446.6 L1763.5,443.5 L1765.5,440.3 L1767.5,437.2 L1769.5,434.1 L1771.5,431.0 L1773.5,427.9 L1775.5,424.8 L1777.5,421.7 L1779.5,418.6 L1781.5,415.6 L1783.5,412.6 L1785.5,409.6 L1787.5,406.6 L1789.5,403.6 L1791.5,400.6 L1793.5,397.7 L1795.5,394.8 L1797.5,391.9 L1799.5,389.0 L1801.5,386.1 L1803.5,383.3 L1805.5,380.4 L1807.5,377.6 L1809.5,374.8 L1811.5,372.0 L1813.5,369.3 L1815.5,366.5 L1817.5,363.8 L1819.5,361.1 L1821.5,358.4 L1823.5,355.8 L1825.5,353.1 L1827.5,350.5 L1829.5,347.9 L1831.5,345.4 L1833.5,342.8 L1835.5,340.3 L1837.5,337.8 L1839.5,335.3 L1841.5,332.8 L1843.5,330.4 L1845.5,328.0 L1847.5,325.6 L1849.5,323.3 L1851.5,320.9 L1853.5,318.6 L1855.5,316.3 L1857.5,314.0 L1859.5,311.8 L1861.5,309.6 L1863.5,307.4 L1865.5,305.2 L1867.5,303.1 L1869.5,300.9 L1871.5,298.8 L1873.5,296.8 L1875.5,294.7 L1877.5,292.7 L1879.5,290.7 L1881.5,288.7 L1883.5,286.7 L1885.5,284.8 L1887.5,282.9 L1889.5,281.0 L1891.5,279.2 L1893.5,277.3 L1895.5,275.5 L1897.5,273.7 L1899.5,272.0 L1901.5,270.2 L1903.5,268.5 L1905.5,266.8 L1907.5,265.2 L1909.5,263.5 L1911.5,261.9 L1913.5,260.3 L1915.5,258.8 L1917.5,257.2 L1919.5,255.7 L1921.5,254.2 L1923.5,252.8 L1925.5,251.3 L1927.5,249.9 L1929.5,248.5 L1931.5,247.1 L1933.5,245.8 L1935.5,244.5 L1937.5,243.2 L1939.5,241.9 L1941.5,240.7 L1943.5,239.5 L1945.5,238.3 L1947.5,237.1 L1949.5,236.0 L1951.5,234.9 L1953.5,233.8 L1955.5,232.7 L1957.5,231.7 L1959.5,230.7 L1961.5,229.7 L1963.5,228.8 L1965.5,227.8 L1967.5,226.9 L1969.5,226.0 L1971.5,225.2 L1973.5,224.4 L1975.5,223.6 L1977.5,222.8 L1979.5,222.0 L1981.5,221.3 L1983.5,220.6 L1985.5,219.9 L1987.5,219.3 L1989.5,218.7 L1991.5,218.1 L1993.5,217.5 L1995.5,217.0 L1997.5,216.5 L1999.5,216.0 L2001.5,215.5 L2003.5,215.1 L2005.5,214.7 L2007.5,214.3 L2009.5,213.9 L2011.5,213.6 L2013.5,213.3 L2015.5,213.0 L2017.5,212.8 L2019.5,212.5 L2021.5,212.4 L2023.5,212.2 L2025.5,212.0 L2027.5,211.9 L2029.5,211.8 L2031.5,211.8 L2033.5,211.7 L2035.5,211.7 L2037.5,211.8 L2039.5,211.8 L2041.5,211.9 L2043.5,212.0 L2045.5,212.1 L2047.5,212.3 L2049.5,212.5 L2051.5,212.7 L2053.5,212.9 L2055.5,213.1 L2057.5,213.4 L2059.5,213.7 L2061.5,214.1 L2063.5,214.4 L2065.5,214.8 L2067.5,215.2 L2069.5,215.6 L2071.5,216.0 L2073.5,216.5 L2075.5,216.9 L2077.5,217.4 L2079.5,218.0 L2081.5,218.5 L2083.5,219.0 L2085.5,219.6 L2087.5,220.2 L2089.5,220.8 L2091.5,221.4 L2093.5,222.1 L2095.5,222.7 L2097.5,223.4 L2099.5,224.1 L2101.5,224.8 L2103.5,225.5 L2105.5,226.2 L2107.5,226.9 L2109.5,227.7 L2111.5,228.5 L2113.5,229.2 L2115.5,230.0 L2117.5,230.8 L2119.5,231.6 L2121.5,232.5 L2123.5,233.3 L2125.5,234.1 L2127.5,235.0 L2129.5,235.9 L2131.5,236.7 L2133.5,237.6 L2135.5,238.5 L2137.5,239.4 L2139.5,240.3 L2141.5,241.2 L2143.5,242.1 L2145.5,243.0 L2147.5,243.9 L2149.5,244.8 L2151.5,245.8 L2153.5,246.7 L2155.5,247.6 L2157.5,248.6 L2159.5,249.5 L2161.5,250.4 L2163.5,251.4 L2165.5,252.3 L2167.5,253.3 L2169.5,254.2 L2171.5,255.2 L2173.5,256.1 L2175.5,257.1 L2177.5,258.0 L2179.5,258.9 L2181.5,259.9 L2183.5,260.8 L2185.5,261.7 L2187.5,262.7 L2189.5,263.6 L2191.5,264.5 L2193.5,265.4 L2195.5,266.3 L2197.5,267.2 L2199.5,268.1 L2201.5,269.0 L2203.5,269.9 L2205.5,270.8 L2207.5,271.7 L2209.5,272.5 L2211.5,273.4 L2213.5,274.2 L2215.5,275.0 L2217.5,275.9 L2219.5,276.7 L2221.5,277.5 L2223.5,278.3 L2225.5,279.1 L2227.5,279.8 L2229.5,280.6 L2231.5,281.3 L2233.5,282.1 L2235.5,282.8 L2237.5,283.5 L2239.5,284.2 L2241.5,284.8 L2243.5,285.5 L2245.5,286.1 L2247.5,286.7 L2249.5,287.4 L2251.5,287.9 L2253.5,288.5 L2255.5,289.1 L2257.5,289.6 L2259.5,290.1 L2261.5,290.6 L2263.5,291.1 L2265.5,291.6 L2267.5,292.0 L2269.5,292.4 L2271.5,292.8 L2273.5,293.2 L2275.5,293.5 L2277.5,293.9 L2279.5,294.2 L2281.5,294.5 L2283.5,294.7 L2285.5,294.9 L2287.5,295.2 L2289.5,295.3 L2291.5,295.5 L2293.5,295.6" fill="none" stroke="#0000ff" stroke-width="11.5" stroke-linejoin="round" stroke-dasharray="46 32.13 1 32.13" stroke-dashoffset="5.81" stroke-linecap="round"/>
<path clip-path="url(#cb)" d="M356.5,1733.3 L359.5,1733.3 L362.5,1733.3 L365.5,1733.3 L368.5,1733.3 L371.5,1733.3 L374.5,1733.4 L377.5,1733.4 L380.5,1733.5 L383.5,1733.5 L386.5,1733.6 L389.5,1733.6 L392.5,1733.7 L395.5,1733.8 L398.5,1733.9 L401.5,1734.0 L404.5,1734.1 L407.5,1734.2 L410.5,1734.3 L413.5,1734.4 L416.5,1734.5 L419.5,1734.6 L422.5,1734.8 L425.5,1734.9 L428.5,1735.1 L431.5,1735.2 L434.5,1735.4 L437.5,1735.6 L440.5,1735.7 L443.5,1735.9 L446.5,1736.1 L449.5,1736.3 L452.5,1736.5 L455.5,1736.7 L458.5,1736.9 L461.5,1737.2 L464.5,1737.4 L467.5,1737.6 L470.5,1737.9 L473.5,1738.1 L476.5,1738.4 L479.5,1738.7 L482.5,1738.9 L485.5,1739.2 L488.5,1739.5 L491.5,1739.8 L494.5,1740.1 L497.5,1740.4 L500.5,1740.7 L503.5,1741.0 L506.5,1741.4 L509.5,1741.7 L512.5,1742.1 L515.5,1742.4 L518.5,1742.8 L521.5,1743.1 L524.5,1743.5 L527.5,1743.9 L530.5,1744.2 L533.5,1744.6 L536.5,1745.0 L539.5,1745.4 L542.5,1745.8 L545.5,1746.2 L548.5,1746.7 L551.5,1747.1 L554.5,1747.5 L557.5,1747.9 L560.5,1748.4 L563.5,1748.8 L566.5,1749.3 L569.5,1749.7 L572.5,1750.2 L575.5,1750.7 L578.5,1751.1 L581.5,1751.6 L584.5,1752.1 L587.5,1752.6 L590.5,1753.0 L593.5,1753.5 L596.5,1754.0 L599.5,1754.5 L602.5,1755.0 L605.5,1755.5 L608.5,1756.1 L611.5,1756.6 L614.5,1757.1 L617.5,1757.6 L620.5,1758.1 L623.5,1758.7 L626.5,1759.2 L629.5,1759.7 L632.5,1760.3 L635.5,1760.8 L638.5,1761.4 L641.5,1761.9 L644.5,1762.5 L647.5,1763.0 L650.5,1763.6 L653.5,1764.2 L656.5,1764.7 L659.5,1765.3 L662.5,1765.9 L665.5,1766.5 L668.5,1767.0 L671.5,1767.6 L674.5,1768.2 L677.5,1768.8 L680.5,1769.4 L683.5,1770.0 L686.5,1770.6 L689.5,1771.2 L692.5,1771.8 L695.5,1772.4 L698.5,1773.0 L701.5,1773.6 L704.5,1774.3 L707.5,1774.9 L710.5,1775.5 L713.5,1776.1 L716.5,1776.8 L719.5,1777.4 L722.5,1778.1 L725.5,1778.7 L728.5,1779.4 L731.5,1780.0 L734.5,1780.7 L737.5,1781.3 L740.5,1782.0 L743.5,1782.7 L746.5,1783.3 L749.5,1784.0 L752.5,1784.7 L755.5,1785.4 L758.5,1786.1 L761.5,1786.7 L764.5,1787.4 L767.5,1788.1 L770.5,1788.8 L773.5,1789.5 L776.5,1790.2 L779.5,1791.0 L782.5,1791.7 L785.5,1792.4 L788.5,1793.1 L791.5,1793.8 L794.5,1794.6 L797.5,1795.3 L800.5,1796.0 L803.5,1796.8 L806.5,1797.5 L809.5,1798.2 L812.5,1799.0 L815.5,1799.7 L818.5,1800.5 L821.5,1801.2 L824.5,1802.0 L827.5,1802.8 L830.5,1803.5 L833.5,1804.3 L836.5,1805.0 L839.5,1805.8 L842.5,1806.6 L845.5,1807.3 L848.5,1808.1 L851.5,1808.9 L854.5,1809.6 L857.5,1810.4 L860.5,1811.2 L863.5,1812.0 L866.5,1812.7 L869.5,1813.5 L872.5,1814.3 L875.5,1815.1 L878.5,1815.8 L881.5,1816.6 L884.5,1817.4 L887.5,1818.2 L890.5,1819.0 L893.5,1819.7 L896.5,1820.5 L899.5,1821.3 L902.5,1822.1 L905.5,1822.8 L908.5,1823.6 L911.5,1824.4 L914.5,1825.1 L917.5,1825.9 L920.5,1826.7 L923.5,1827.5 L926.5,1828.2 L929.5,1829.0 L932.5,1829.8 L935.5,1830.5 L938.5,1831.3 L941.5,1832.0 L944.5,1832.8 L947.5,1833.6 L950.5,1834.3 L953.5,1835.1 L956.5,1835.8 L959.5,1836.6 L962.5,1837.3 L965.5,1838.1 L968.5,1838.8 L971.5,1839.5 L974.5,1840.3 L977.5,1841.0 L980.5,1841.8 L983.5,1842.5 L986.5,1843.2 L989.5,1843.9 L992.5,1844.7 L995.5,1845.4 L998.5,1846.1 L1001.5,1846.8 L1004.5,1847.5 L1007.5,1848.3 L1010.5,1849.0 L1013.5,1849.7 L1016.5,1850.4 L1019.5,1851.1 L1022.5,1851.8 L1025.5,1852.5 L1028.5,1853.2 L1031.5,1853.8 L1034.5,1854.5 L1037.5,1855.2 L1040.5,1855.9 L1043.5,1856.6 L1046.5,1857.2 L1049.5,1857.9 L1052.5,1858.6 L1055.5,1859.2 L1058.5,1859.9 L1061.5,1860.5 L1064.5,1861.2 L1067.5,1861.8 L1070.5,1862.5 L1073.5,1863.1 L1076.5,1863.7 L1079.5,1864.3 L1082.5,1865.0 L1085.5,1865.6 L1088.5,1866.2 L1091.5,1866.8 L1094.5,1867.4 L1097.5,1868.0 L1100.5,1868.6 L1103.5,1869.1 L1106.5,1869.7 L1109.5,1870.3 L1112.5,1870.9 L1115.5,1871.4 L1118.5,1872.0 L1121.5,1872.5 L1124.5,1873.0 L1127.5,1873.6 L1130.5,1874.1 L1133.5,1874.6 L1136.5,1875.1 L1139.5,1875.6 L1142.5,1876.1 L1145.5,1876.6 L1148.5,1877.1 L1151.5,1877.5 L1154.5,1878.0 L1157.5,1878.5 L1160.5,1878.9 L1163.5,1879.3 L1166.5,1879.8 L1169.5,1880.2 L1172.5,1880.6 L1175.5,1881.0 L1178.5,1881.4 L1181.5,1881.8 L1184.5,1882.2 L1187.5,1882.6 L1190.5,1882.9 L1193.5,1883.3 L1196.5,1883.6 L1199.5,1884.0 L1202.5,1884.3 L1205.5,1884.6 L1208.5,1884.9 L1211.5,1885.2 L1214.5,1885.5 L1217.5,1885.8 L1220.5,1886.1 L1223.5,1886.4 L1226.5,1886.6 L1229.5,1886.9 L1232.5,1887.1 L1235.5,1887.4 L1238.5,1887.6 L1241.5,1887.8 L1244.5,1888.0 L1247.5,1888.2 L1250.5,1888.4 L1253.5,1888.6 L1256.5,1888.8 L1259.5,1888.9 L1262.5,1889.1 L1265.5,1889.2 L1268.5,1889.4 L1271.5,1889.5 L1274.5,1889.6 L1277.5,1889.8 L1280.5,1889.9 L1283.5,1890.0 L1286.5,1890.1 L1289.5,1890.2 L1292.5,1890.2 L1295.5,1890.3 L1298.5,1890.4 L1301.5,1890.4 L1304.5,1890.5 L1307.5,1890.5 L1310.5,1890.5 L1313.5,1890.6 L1316.5,1890.6 L1319.5,1890.6 L1322.5,1890.6 L1325.5,1890.6 L1328.5,1890.6 L1331.5,1890.6 L1334.5,1890.5 L1337.5,1890.5 L1340.5,1890.4 L1343.5,1890.4 L1346.5,1890.3 L1349.5,1890.3 L1352.5,1890.2 L1355.5,1890.1 L1358.5,1890.0 L1361.5,1889.9 L1364.5,1889.8 L1367.5,1889.7 L1370.5,1889.6 L1373.5,1889.4 L1376.5,1889.3 L1379.5,1889.1 L1382.5,1889.0 L1385.5,1888.8 L1388.5,1888.6 L1391.5,1888.5 L1394.5,1888.3 L1397.5,1888.1 L1400.5,1887.9 L1403.5,1887.7 L1406.5,1887.4 L1409.5,1887.2 L1412.5,1887.0 L1415.5,1886.7 L1418.5,1886.5 L1421.5,1886.2 L1424.5,1885.9 L1427.5,1885.6 L1430.5,1885.3 L1433.5,1885.0 L1436.5,1884.7 L1439.5,1884.4 L1442.5,1884.1 L1445.5,1883.7 L1448.5,1883.4 L1451.5,1883.0 L1454.5,1882.7 L1457.5,1882.3 L1460.5,1881.9 L1463.5,1881.6 L1466.5,1881.2 L1469.5,1880.8 L1472.5,1880.3 L1475.5,1879.9 L1478.5,1879.5 L1481.5,1879.1 L1484.5,1878.6 L1487.5,1878.2 L1490.5,1877.7 L1493.5,1877.2 L1496.5,1876.8 L1499.5,1876.3 L1502.5,1875.8 L1505.5,1875.3 L1508.5,1874.8 L1511.5,1874.3 L1514.5,1873.7 L1517.5,1873.2 L1520.5,1872.7 L1523.5,1872.1 L1526.5,1871.6 L1529.5,1871.0 L1532.5,1870.5 L1535.5,1869.9 L1538.5,1869.3 L1541.5,1868.8 L1544.5,1868.2 L1547.5,1867.6 L1550.5,1867.0 L1553.5,1866.4 L1556.5,1865.8 L1559.5,1865.2 L1562.5,1864.6 L1565.5,1863.9 L1568.5,1863.3 L1571.5,1862.7 L1574.5,1862.0 L1577.5,1861.4 L1580.5,1860.7 L1583.5,1860.1 L1586.5,1859.4 L1589.5,1858.8 L1592.5,1858.1 L1595.5,1857.5 L1598.5,1856.8 L1601.5,1856.1 L1604.5,1855.4 L1607.5,1854.8 L1610.5,1854.1 L1613.5,1853.4 L1616.5,1852.7 L1619.5,1852.0 L1622.5,1851.3 L1625.5,1850.6 L1628.5,1849.9 L1631.5,1849.2 L1634.5,1848.5 L1637.5,1847.8 L1640.5,1847.1 L1643.5,1846.3 L1646.5,1845.6 L1649.5,1844.9 L1652.5,1844.2 L1655.5,1843.5 L1658.5,1842.7 L1661.5,1842.0 L1664.5,1841.3 L1667.5,1840.5 L1670.5,1839.8 L1673.5,1839.0 L1676.5,1838.3 L1679.5,1837.6 L1682.5,1836.8 L1685.5,1836.1 L1688.5,1835.3 L1691.5,1834.6 L1694.5,1833.8 L1697.5,1833.1 L1700.5,1832.3 L1703.5,1831.5 L1706.5,1830.8 L1709.5,1830.0 L1712.5,1829.2 L1715.5,1828.5 L1718.5,1827.7 L1721.5,1826.9 L1724.5,1826.2 L1727.5,1825.4 L1730.5,1824.6 L1733.5,1823.9 L1736.5,1823.1 L1739.5,1822.3 L1742.5,1821.5 L1745.5,1820.8 L1748.5,1820.0 L1751.5,1819.2 L1754.5,1818.4 L1757.5,1817.7 L1760.5,1816.9 L1763.5,1816.1 L1766.5,1815.3 L1769.5,1814.6 L1772.5,1813.8 L1775.5,1813.0 L1778.5,1812.2 L1781.5,1811.5 L1784.5,1810.7 L1787.5,1809.9 L1790.5,1809.1 L1793.5,1808.4 L1796.5,1807.6 L1799.5,1806.8 L1802.5,1806.1 L1805.5,1805.3 L1808.5,1804.5 L1811.5,1803.8 L1814.5,1803.0 L1817.5,1802.2 L1820.5,1801.5 L1823.5,1800.7 L1826.5,1800.0 L1829.5,1799.2 L1832.5,1798.5 L1835.5,1797.8 L1838.5,1797.0 L1841.5,1796.3 L1844.5,1795.5 L1847.5,1794.8 L1850.5,1794.1 L1853.5,1793.4 L1856.5,1792.6 L1859.5,1791.9 L1862.5,1791.2 L1865.5,1790.5 L1868.5,1789.8 L1871.5,1789.1 L1874.5,1788.4 L1877.5,1787.7 L1880.5,1787.0 L1883.5,1786.3 L1886.5,1785.6 L1889.5,1784.9 L1892.5,1784.2 L1895.5,1783.6 L1898.5,1782.9 L1901.5,1782.2 L1904.5,1781.6 L1907.5,1780.9 L1910.5,1780.2 L1913.5,1779.6 L1916.5,1778.9 L1919.5,1778.3 L1922.5,1777.6 L1925.5,1777.0 L1928.5,1776.4 L1931.5,1775.7 L1934.5,1775.1 L1937.5,1774.5 L1940.5,1773.9 L1943.5,1773.2 L1946.5,1772.6 L1949.5,1772.0 L1952.5,1771.4 L1955.5,1770.8 L1958.5,1770.2 L1961.5,1769.6 L1964.5,1769.0 L1967.5,1768.4 L1970.5,1767.8 L1973.5,1767.2 L1976.5,1766.7 L1979.5,1766.1 L1982.5,1765.5 L1985.5,1764.9 L1988.5,1764.4 L1991.5,1763.8 L1994.5,1763.2 L1997.5,1762.7 L2000.5,1762.1 L2003.5,1761.6 L2006.5,1761.0 L2009.5,1760.5 L2012.5,1759.9 L2015.5,1759.4 L2018.5,1758.8 L2021.5,1758.3 L2024.5,1757.8 L2027.5,1757.3 L2030.5,1756.7 L2033.5,1756.2 L2036.5,1755.7 L2039.5,1755.2 L2042.5,1754.7 L2045.5,1754.2 L2048.5,1753.7 L2051.5,1753.2 L2054.5,1752.7 L2057.5,1752.2 L2060.5,1751.8 L2063.5,1751.3 L2066.5,1750.8 L2069.5,1750.3 L2072.5,1749.9 L2075.5,1749.4 L2078.5,1749.0 L2081.5,1748.5 L2084.5,1748.1 L2087.5,1747.7 L2090.5,1747.2 L2093.5,1746.8 L2096.5,1746.4 L2099.5,1746.0 L2102.5,1745.6 L2105.5,1745.2 L2108.5,1744.8 L2111.5,1744.4 L2114.5,1744.0 L2117.5,1743.6 L2120.5,1743.2 L2123.5,1742.9 L2126.5,1742.5 L2129.5,1742.2 L2132.5,1741.8 L2135.5,1741.5 L2138.5,1741.2 L2141.5,1740.8 L2144.5,1740.5 L2147.5,1740.2 L2150.5,1739.9 L2153.5,1739.6 L2156.5,1739.3 L2159.5,1739.0 L2162.5,1738.7 L2165.5,1738.5 L2168.5,1738.2 L2171.5,1738.0 L2174.5,1737.7 L2177.5,1737.5 L2180.5,1737.2 L2183.5,1737.0 L2186.5,1736.8 L2189.5,1736.6 L2192.5,1736.4 L2195.5,1736.2 L2198.5,1736.0 L2201.5,1735.8 L2204.5,1735.6 L2207.5,1735.4 L2210.5,1735.3 L2213.5,1735.1 L2216.5,1735.0 L2219.5,1734.8 L2222.5,1734.7 L2225.5,1734.5 L2228.5,1734.4 L2231.5,1734.3 L2234.5,1734.2 L2237.5,1734.1 L2240.5,1734.0 L2243.5,1733.9 L2246.5,1733.8 L2249.5,1733.7 L2252.5,1733.7 L2255.5,1733.6 L2258.5,1733.5 L2261.5,1733.5 L2264.5,1733.4 L2267.5,1733.4 L2270.5,1733.4 L2273.5,1733.3 L2276.5,1733.3 L2279.5,1733.3 L2282.5,1733.3 L2285.5,1733.3 L2286.5,1733.3" fill="none" stroke="#a000c8" stroke-width="11" stroke-linejoin="round" stroke-linecap="butt"/>
<path clip-path="url(#cb)" d="M356.5,1438.5 L359.5,1438.5 L362.5,1438.5 L365.5,1438.5 L368.5,1438.6 L371.5,1438.7 L374.5,1438.8 L377.5,1439.0 L380.5,1439.1 L383.5,1439.3 L386.5,1439.5 L389.5,1439.7 L392.5,1439.9 L395.5,1440.2 L398.5,1440.4 L401.5,1440.7 L404.5,1441.0 L407.5,1441.4 L410.5,1441.7 L413.5,1442.1 L416.5,1442.5 L419.5,1442.9 L422.5,1443.3 L425.5,1443.7 L428.5,1444.2 L431.5,1444.7 L434.5,1445.2 L437.5,1445.7 L440.5,1446.2 L443.5,1446.7 L446.5,1447.3 L449.5,1447.9 L452.5,1448.5 L455.5,1449.1 L458.5,1449.7 L461.5,1450.4 L464.5,1451.0 L467.5,1451.7 L470.5,1452.4 L473.5,1453.1 L476.5,1453.9 L479.5,1454.6 L482.5,1455.4 L485.5,1456.1 L488.5,1456.9 L491.5,1457.7 L494.5,1458.6 L497.5,1459.4 L500.5,1460.3 L503.5,1461.2 L506.5,1462.1 L509.5,1463.0 L512.5,1463.9 L515.5,1464.9 L518.5,1465.8 L521.5,1466.8 L524.5,1467.8 L527.5,1468.8 L530.5,1469.9 L533.5,1470.9 L536.5,1472.0 L539.5,1473.1 L542.5,1474.2 L545.5,1475.3 L548.5,1476.5 L551.5,1477.6 L554.5,1478.8 L557.5,1480.0 L560.5,1481.2 L563.5,1482.5 L566.5,1483.7 L569.5,1485.0 L572.5,1486.3 L575.5,1487.6 L578.5,1488.9 L581.5,1490.3 L584.5,1491.7 L587.5,1493.1 L590.5,1494.5 L593.5,1495.9 L596.5,1497.3 L599.5,1498.8 L602.5,1500.3 L605.5,1501.8 L608.5,1503.3 L611.5,1504.8 L614.5,1506.4 L617.5,1507.9 L620.5,1509.5 L623.5,1511.1 L626.5,1512.7 L629.5,1514.3 L632.5,1516.0 L635.5,1517.6 L638.5,1519.3 L641.5,1521.0 L644.5,1522.7 L647.5,1524.4 L650.5,1526.1 L653.5,1527.9 L656.5,1529.6 L659.5,1531.4 L662.5,1533.2 L665.5,1535.0 L668.5,1536.7 L671.5,1538.6 L674.5,1540.4 L677.5,1542.2 L680.5,1544.0 L683.5,1545.9 L686.5,1547.7 L689.5,1549.6 L692.5,1551.5 L695.5,1553.3 L698.5,1555.2 L701.5,1557.1 L704.5,1559.0 L707.5,1560.9 L710.5,1562.8 L713.5,1564.7 L716.5,1566.6 L719.5,1568.6 L722.5,1570.5 L725.5,1572.4 L728.5,1574.4 L731.5,1576.3 L734.5,1578.3 L737.5,1580.2 L740.5,1582.2 L743.5,1584.2 L746.5,1586.1 L749.5,1588.1 L752.5,1590.1 L755.5,1592.1 L758.5,1594.1 L761.5,1596.1 L764.5,1598.1 L767.5,1600.1 L770.5,1602.1 L773.5,1604.1 L776.5,1606.1 L779.5,1608.2 L782.5,1610.2 L785.5,1612.2 L788.5,1614.3 L791.5,1616.3 L794.5,1618.4 L797.5,1620.4 L800.5,1622.5 L803.5,1624.6 L806.5,1626.6 L809.5,1628.7 L812.5,1630.8 L815.5,1632.9 L818.5,1635.0 L821.5,1637.1 L824.5,1639.2 L827.5,1641.3 L830.5,1643.4 L833.5,1645.5 L836.5,1647.6 L839.5,1649.8 L842.5,1651.9 L845.5,1654.0 L848.5,1656.1 L851.5,1658.3 L854.5,1660.4 L857.5,1662.6 L860.5,1664.7 L863.5,1666.9 L866.5,1669.0 L869.5,1671.2 L872.5,1673.3 L875.5,1675.5 L878.5,1677.6 L881.5,1679.8 L884.5,1681.9 L887.5,1684.1 L890.5,1686.2 L893.5,1688.4 L896.5,1690.5 L899.5,1692.7 L902.5,1694.8 L905.5,1696.9 L908.5,1699.1 L911.5,1701.2 L914.5,1703.3 L917.5,1705.5 L920.5,1707.6 L923.5,1709.7 L926.5,1711.8 L929.5,1713.9 L932.5,1716.0 L935.5,1718.1 L938.5,1720.2 L941.5,1722.2 L944.5,1724.3 L947.5,1726.4 L950.5,1728.4 L953.5,1730.4 L956.5,1732.5 L959.5,1734.5 L962.5,1736.5 L965.5,1738.5 L968.5,1740.5 L971.5,1742.5 L974.5,1744.5 L977.5,1746.5 L980.5,1748.4 L983.5,1750.4 L986.5,1752.3 L989.5,1754.2 L992.5,1756.2 L995.5,1758.1 L998.5,1760.0 L1001.5,1761.9 L1004.5,1763.8 L1007.5,1765.6 L1010.5,1767.5 L1013.5,1769.4 L1016.5,1771.2 L1019.5,1773.1 L1022.5,1774.9 L1025.5,1776.7 L1028.5,1778.5 L1031.5,1780.3 L1034.5,1782.1 L1037.5,1783.9 L1040.5,1785.7 L1043.5,1787.4 L1046.5,1789.2 L1049.5,1790.9 L1052.5,1792.7 L1055.5,1794.4 L1058.5,1796.1 L1061.5,1797.8 L1064.5,1799.5 L1067.5,1801.2 L1070.5,1802.9 L1073.5,1804.6 L1076.5,1806.3 L1079.5,1807.9 L1082.5,1809.5 L1085.5,1811.2 L1088.5,1812.8 L1091.5,1814.4 L1094.5,1816.0 L1097.5,1817.6 L1100.5,1819.2 L1103.5,1820.7 L1106.5,1822.3 L1109.5,1823.8 L1112.5,1825.3 L1115.5,1826.8 L1118.5,1828.3 L1121.5,1829.8 L1124.5,1831.3 L1127.5,1832.7 L1130.5,1834.2 L1133.5,1835.6 L1136.5,1837.0 L1139.5,1838.4 L1142.5,1839.7 L1145.5,1841.1 L1148.5,1842.4 L1151.5,1843.7 L1154.5,1845.0 L1157.5,1846.3 L1160.5,1847.5 L1163.5,1848.7 L1166.5,1849.9 L1169.5,1851.1 L1172.5,1852.3 L1175.5,1853.4 L1178.5,1854.6 L1181.5,1855.7 L1184.5,1856.7 L1187.5,1857.8 L1190.5,1858.8 L1193.5,1859.8 L1196.5,1860.8 L1199.5,1861.8 L1202.5,1862.7 L1205.5,1863.6 L1208.5,1864.5 L1211.5,1865.4 L1214.5,1866.2 L1217.5,1867.0 L1220.5,1867.8 L1223.5,1868.6 L1226.5,1869.3 L1229.5,1870.0 L1232.5,1870.7 L1235.5,1871.4 L1238.5,1872.0 L1241.5,1872.6 L1244.5,1873.2 L1247.5,1873.8 L1250.5,1874.3 L1253.5,1874.8 L1256.5,1875.3 L1259.5,1875.8 L1262.5,1876.3 L1265.5,1876.7 L1268.5,1877.1 L1271.5,1877.5 L1274.5,1877.8 L1277.5,1878.1 L1280.5,1878.4 L1283.5,1878.7 L1286.5,1879.0 L1289.5,1879.2 L1292.5,1879.5 L1295.5,1879.7 L1298.5,1879.8 L1301.5,1880.0 L1304.5,1880.1 L1307.5,1880.2 L1310.5,1880.3 L1313.5,1880.4 L1316.5,1880.4 L1319.5,1880.5 L1322.5,1880.5 L1325.5,1880.4 L1328.5,1880.4 L1331.5,1880.3 L1334.5,1880.3 L1337.5,1880.2 L1340.5,1880.0 L1343.5,1879.9 L1346.5,1879.7 L1349.5,1879.5 L1352.5,1879.3 L1355.5,1879.1 L1358.5,1878.8 L1361.5,1878.5 L1364.5,1878.2 L1367.5,1877.9 L1370.5,1877.6 L1373.5,1877.2 L1376.5,1876.8 L1379.5,1876.4 L1382.5,1876.0 L1385.5,1875.5 L1388.5,1875.0 L1391.5,1874.5 L1394.5,1874.0 L1397.5,1873.4 L1400.5,1872.8 L1403.5,1872.2 L1406.5,1871.6 L1409.5,1870.9 L1412.5,1870.2 L1415.5,1869.5 L1418.5,1868.8 L1421.5,1868.1 L1424.5,1867.3 L1427.5,1866.5 L1430.5,1865.6 L1433.5,1864.8 L1436.5,1863.9 L1439.5,1863.0 L1442.5,1862.1 L1445.5,1861.1 L1448.5,1860.2 L1451.5,1859.2 L1454.5,1858.1 L1457.5,1857.1 L1460.5,1856.0 L1463.5,1854.9 L1466.5,1853.8 L1469.5,1852.7 L1472.5,1851.5 L1475.5,1850.3 L1478.5,1849.1 L1481.5,1847.9 L1484.5,1846.7 L1487.5,1845.4 L1490.5,1844.1 L1493.5,1842.8 L1496.5,1841.5 L1499.5,1840.2 L1502.5,1838.8 L1505.5,1837.4 L1508.5,1836.0 L1511.5,1834.6 L1514.5,1833.2 L1517.5,1831.8 L1520.5,1830.3 L1523.5,1828.8 L1526.5,1827.3 L1529.5,1825.8 L1532.5,1824.3 L1535.5,1822.8 L1538.5,1821.2 L1541.5,1819.7 L1544.5,1818.1 L1547.5,1816.5 L1550.5,1814.9 L1553.5,1813.3 L1556.5,1811.7 L1559.5,1810.1 L1562.5,1808.5 L1565.5,1806.8 L1568.5,1805.1 L1571.5,1803.5 L1574.5,1801.8 L1577.5,1800.1 L1580.5,1798.4 L1583.5,1796.7 L1586.5,1795.0 L1589.5,1793.3 L1592.5,1791.5 L1595.5,1789.8 L1598.5,1788.0 L1601.5,1786.3 L1604.5,1784.5 L1607.5,1782.7 L1610.5,1780.9 L1613.5,1779.1 L1616.5,1777.3 L1619.5,1775.5 L1622.5,1773.7 L1625.5,1771.8 L1628.5,1770.0 L1631.5,1768.1 L1634.5,1766.3 L1637.5,1764.4 L1640.5,1762.5 L1643.5,1760.6 L1646.5,1758.7 L1649.5,1756.8 L1652.5,1754.9 L1655.5,1753.0 L1658.5,1751.0 L1661.5,1749.1 L1664.5,1747.1 L1667.5,1745.1 L1670.5,1743.2 L1673.5,1741.2 L1676.5,1739.2 L1679.5,1737.2 L1682.5,1735.2 L1685.5,1733.2 L1688.5,1731.1 L1691.5,1729.1 L1694.5,1727.0 L1697.5,1725.0 L1700.5,1722.9 L1703.5,1720.8 L1706.5,1718.8 L1709.5,1716.7 L1712.5,1714.6 L1715.5,1712.5 L1718.5,1710.4 L1721.5,1708.3 L1724.5,1706.2 L1727.5,1704.0 L1730.5,1701.9 L1733.5,1699.8 L1736.5,1697.7 L1739.5,1695.5 L1742.5,1693.4 L1745.5,1691.2 L1748.5,1689.1 L1751.5,1686.9 L1754.5,1684.8 L1757.5,1682.6 L1760.5,1680.5 L1763.5,1678.3 L1766.5,1676.2 L1769.5,1674.0 L1772.5,1671.9 L1775.5,1669.7 L1778.5,1667.6 L1781.5,1665.4 L1784.5,1663.3 L1787.5,1661.1 L1790.5,1659.0 L1793.5,1656.9 L1796.5,1654.7 L1799.5,1652.6 L1802.5,1650.5 L1805.5,1648.3 L1808.5,1646.2 L1811.5,1644.1 L1814.5,1642.0 L1817.5,1639.9 L1820.5,1637.8 L1823.5,1635.7 L1826.5,1633.6 L1829.5,1631.5 L1832.5,1629.4 L1835.5,1627.3 L1838.5,1625.3 L1841.5,1623.2 L1844.5,1621.1 L1847.5,1619.1 L1850.5,1617.0 L1853.5,1615.0 L1856.5,1612.9 L1859.5,1610.9 L1862.5,1608.8 L1865.5,1606.8 L1868.5,1604.8 L1871.5,1602.8 L1874.5,1600.8 L1877.5,1598.8 L1880.5,1596.7 L1883.5,1594.7 L1886.5,1592.8 L1889.5,1590.8 L1892.5,1588.8 L1895.5,1586.8 L1898.5,1584.8 L1901.5,1582.9 L1904.5,1580.9 L1907.5,1578.9 L1910.5,1577.0 L1913.5,1575.0 L1916.5,1573.1 L1919.5,1571.1 L1922.5,1569.2 L1925.5,1567.3 L1928.5,1565.4 L1931.5,1563.4 L1934.5,1561.5 L1937.5,1559.6 L1940.5,1557.7 L1943.5,1555.8 L1946.5,1554.0 L1949.5,1552.1 L1952.5,1550.2 L1955.5,1548.3 L1958.5,1546.5 L1961.5,1544.6 L1964.5,1542.8 L1967.5,1541.0 L1970.5,1539.2 L1973.5,1537.4 L1976.5,1535.6 L1979.5,1533.8 L1982.5,1532.0 L1985.5,1530.2 L1988.5,1528.5 L1991.5,1526.7 L1994.5,1525.0 L1997.5,1523.3 L2000.5,1521.6 L2003.5,1519.9 L2006.5,1518.2 L2009.5,1516.5 L2012.5,1514.9 L2015.5,1513.3 L2018.5,1511.6 L2021.5,1510.0 L2024.5,1508.5 L2027.5,1506.9 L2030.5,1505.3 L2033.5,1503.8 L2036.5,1502.3 L2039.5,1500.8 L2042.5,1499.3 L2045.5,1497.8 L2048.5,1496.4 L2051.5,1494.9 L2054.5,1493.5 L2057.5,1492.1 L2060.5,1490.8 L2063.5,1489.4 L2066.5,1488.1 L2069.5,1486.7 L2072.5,1485.4 L2075.5,1484.2 L2078.5,1482.9 L2081.5,1481.6 L2084.5,1480.4 L2087.5,1479.2 L2090.5,1478.0 L2093.5,1476.8 L2096.5,1475.7 L2099.5,1474.6 L2102.5,1473.4 L2105.5,1472.4 L2108.5,1471.3 L2111.5,1470.2 L2114.5,1469.2 L2117.5,1468.1 L2120.5,1467.1 L2123.5,1466.1 L2126.5,1465.2 L2129.5,1464.2 L2132.5,1463.3 L2135.5,1462.4 L2138.5,1461.5 L2141.5,1460.6 L2144.5,1459.7 L2147.5,1458.9 L2150.5,1458.0 L2153.5,1457.2 L2156.5,1456.4 L2159.5,1455.6 L2162.5,1454.8 L2165.5,1454.1 L2168.5,1453.4 L2171.5,1452.6 L2174.5,1451.9 L2177.5,1451.3 L2180.5,1450.6 L2183.5,1449.9 L2186.5,1449.3 L2189.5,1448.7 L2192.5,1448.1 L2195.5,1447.5 L2198.5,1446.9 L2201.5,1446.4 L2204.5,1445.8 L2207.5,1445.3 L2210.5,1444.8 L2213.5,1444.3 L2216.5,1443.9 L2219.5,1443.4 L2222.5,1443.0 L2225.5,1442.6 L2228.5,1442.2 L2231.5,1441.8 L2234.5,1441.5 L2237.5,1441.1 L2240.5,1440.8 L2243.5,1440.5 L2246.5,1440.3 L2249.5,1440.0 L2252.5,1439.8 L2255.5,1439.5 L2258.5,1439.3 L2261.5,1439.2 L2264.5,1439.0 L2267.5,1438.9 L2270.5,1438.7 L2273.5,1438.6 L2276.5,1438.6 L2279.5,1438.5 L2282.5,1438.5 L2285.5,1438.5 L2286.5,1438.5" fill="none" stroke="#808000" stroke-width="11.5" stroke-linejoin="round" stroke-dasharray="37 56.53" stroke-dashoffset="0.91" stroke-linecap="round"/>
<path clip-path="url(#cb)" d="M356.5,1294.6 L359.5,1294.6 L362.5,1294.6 L365.5,1294.7 L368.5,1294.8 L371.5,1294.9 L374.5,1295.1 L377.5,1295.3 L380.5,1295.5 L383.5,1295.7 L386.5,1296.0 L389.5,1296.3 L392.5,1296.6 L395.5,1297.0 L398.5,1297.4 L401.5,1297.8 L404.5,1298.2 L407.5,1298.7 L410.5,1299.2 L413.5,1299.7 L416.5,1300.3 L419.5,1300.9 L422.5,1301.5 L425.5,1302.2 L428.5,1302.8 L431.5,1303.5 L434.5,1304.3 L437.5,1305.0 L440.5,1305.8 L443.5,1306.7 L446.5,1307.5 L449.5,1308.4 L452.5,1309.3 L455.5,1310.2 L458.5,1311.2 L461.5,1312.2 L464.5,1313.2 L467.5,1314.3 L470.5,1315.4 L473.5,1316.5 L476.5,1317.6 L479.5,1318.8 L482.5,1320.0 L485.5,1321.2 L488.5,1322.5 L491.5,1323.7 L494.5,1325.0 L497.5,1326.4 L500.5,1327.7 L503.5,1329.1 L506.5,1330.5 L509.5,1332.0 L512.5,1333.4 L515.5,1334.9 L518.5,1336.5 L521.5,1338.0 L524.5,1339.6 L527.5,1341.2 L530.5,1342.8 L533.5,1344.4 L536.5,1346.1 L539.5,1347.8 L542.5,1349.5 L545.5,1351.2 L548.5,1353.0 L551.5,1354.8 L554.5,1356.6 L557.5,1358.4 L560.5,1360.3 L563.5,1362.2 L566.5,1364.1 L569.5,1366.0 L572.5,1367.9 L575.5,1369.9 L578.5,1371.9 L581.5,1373.9 L584.5,1375.9 L587.5,1378.0 L590.5,1380.1 L593.5,1382.2 L596.5,1384.3 L599.5,1386.4 L602.5,1388.6 L605.5,1390.8 L608.5,1392.9 L611.5,1395.2 L614.5,1397.4 L617.5,1399.7 L620.5,1401.9 L623.5,1404.2 L626.5,1406.6 L629.5,1408.9 L632.5,1411.2 L635.5,1413.6 L638.5,1416.0 L641.5,1418.4 L644.5,1420.9 L647.5,1423.3 L650.5,1425.8 L653.5,1428.3 L656.5,1430.8 L659.5,1433.3 L662.5,1435.9 L665.5,1438.4 L668.5,1441.0 L671.5,1443.6 L674.5,1446.2 L677.5,1448.8 L680.5,1451.5 L683.5,1454.2 L686.5,1456.8 L689.5,1459.5 L692.5,1462.3 L695.5,1465.0 L698.5,1467.7 L701.5,1470.5 L704.5,1473.3 L707.5,1476.1 L710.5,1478.9 L713.5,1481.7 L716.5,1484.5 L719.5,1487.4 L722.5,1490.2 L725.5,1493.1 L728.5,1496.0 L731.5,1498.9 L734.5,1501.8 L737.5,1504.7 L740.5,1507.6 L743.5,1510.6 L746.5,1513.5 L749.5,1516.5 L752.5,1519.4 L755.5,1522.4 L758.5,1525.4 L761.5,1528.4 L764.5,1531.4 L767.5,1534.4 L770.5,1537.4 L773.5,1540.5 L776.5,1543.5 L779.5,1546.5 L782.5,1549.6 L785.5,1552.6 L788.5,1555.7 L791.5,1558.7 L794.5,1561.8 L797.5,1564.9 L800.5,1568.0 L803.5,1571.1 L806.5,1574.1 L809.5,1577.2 L812.5,1580.3 L815.5,1583.4 L818.5,1586.5 L821.5,1589.6 L824.5,1592.8 L827.5,1595.9 L830.5,1599.0 L833.5,1602.1 L836.5,1605.2 L839.5,1608.4 L842.5,1611.5 L845.5,1614.6 L848.5,1617.7 L851.5,1620.9 L854.5,1624.0 L857.5,1627.2 L860.5,1630.3 L863.5,1633.4 L866.5,1636.6 L869.5,1639.7 L872.5,1642.8 L875.5,1646.0 L878.5,1649.1 L881.5,1652.3 L884.5,1655.4 L887.5,1658.5 L890.5,1661.7 L893.5,1664.8 L896.5,1668.0 L899.5,1671.1 L902.5,1674.2 L905.5,1677.3 L908.5,1680.5 L911.5,1683.6 L914.5,1686.7 L917.5,1689.8 L920.5,1692.9 L923.5,1696.0 L926.5,1699.1 L929.5,1702.2 L932.5,1705.3 L935.5,1708.4 L938.5,1711.5 L941.5,1714.6 L944.5,1717.6 L947.5,1720.7 L950.5,1723.7 L953.5,1726.8 L956.5,1729.8 L959.5,1732.8 L962.5,1735.8 L965.5,1738.8 L968.5,1741.8 L971.5,1744.8 L974.5,1747.7 L977.5,1750.7 L980.5,1753.6 L983.5,1756.6 L986.5,1759.5 L989.5,1762.4 L992.5,1765.3 L995.5,1768.1 L998.5,1771.0 L1001.5,1773.8 L1004.5,1776.7 L1007.5,1779.5 L1010.5,1782.3 L1013.5,1785.1 L1016.5,1787.8 L1019.5,1790.6 L1022.5,1793.3 L1025.5,1796.0 L1028.5,1798.7 L1031.5,1801.4 L1034.5,1804.0 L1037.5,1806.7 L1040.5,1809.3 L1043.5,1811.9 L1046.5,1814.5 L1049.5,1817.0 L1052.5,1819.6 L1055.5,1822.1 L1058.5,1824.6 L1061.5,1827.1 L1064.5,1829.6 L1067.5,1832.0 L1070.5,1834.4 L1073.5,1836.8 L1076.5,1839.2 L1079.5,1841.6 L1082.5,1843.9 L1085.5,1846.2 L1088.5,1848.5 L1091.5,1850.8 L1094.5,1853.1 L1097.5,1855.3 L1100.5,1857.5 L1103.5,1859.7 L1106.5,1861.9 L1109.5,1864.0 L1112.5,1866.1 L1115.5,1868.2 L1118.5,1870.3 L1121.5,1872.3 L1124.5,1874.4 L1127.5,1876.4 L1130.5,1878.3 L1133.5,1880.3 L1136.5,1882.2 L1139.5,1884.1 L1142.5,1886.0 L1145.5,1887.9 L1148.5,1889.7 L1151.5,1891.5 L1154.5,1893.3 L1157.5,1895.0 L1160.5,1896.7 L1163.5,1898.4 L1166.5,1900.1 L1169.5,1901.7 L1172.5,1903.3 L1175.5,1904.9 L1178.5,1906.5 L1181.5,1908.0 L1184.5,1909.5 L1187.5,1911.0 L1190.5,1912.4 L1193.5,1913.8 L1196.5,1915.2 L1199.5,1916.6 L1202.5,1917.9 L1205.5,1919.2 L1208.5,1920.5 L1211.5,1921.7 L1214.5,1922.9 L1217.5,1924.1 L1220.5,1925.2 L1223.5,1926.3 L1226.5,1927.4 L1229.5,1928.4 L1232.5,1929.4 L1235.5,1930.4 L1238.5,1931.3 L1241.5,1932.3 L1244.5,1933.1 L1247.5,1934.0 L1250.5,1934.8 L1253.5,1935.6 L1256.5,1936.3 L1259.5,1937.0 L1262.5,1937.7 L1265.5,1938.4 L1268.5,1939.0 L1271.5,1939.6 L1274.5,1940.1 L1277.5,1940.6 L1280.5,1941.1 L1283.5,1941.5 L1286.5,1942.0 L1289.5,1942.3 L1292.5,1942.7 L1295.5,1943.0 L1298.5,1943.3 L1301.5,1943.5 L1304.5,1943.7 L1307.5,1943.9 L1310.5,1944.0 L1313.5,1944.1 L1316.5,1944.2 L1319.5,1944.3 L1322.5,1944.3 L1325.5,1944.2 L1328.5,1944.2 L1331.5,1944.1 L1334.5,1943.9 L1337.5,1943.8 L1340.5,1943.6 L1343.5,1943.4 L1346.5,1943.1 L1349.5,1942.8 L1352.5,1942.5 L1355.5,1942.1 L1358.5,1941.7 L1361.5,1941.3 L1364.5,1940.8 L1367.5,1940.3 L1370.5,1939.7 L1373.5,1939.2 L1376.5,1938.6 L1379.5,1937.9 L1382.5,1937.3 L1385.5,1936.6 L1388.5,1935.8 L1391.5,1935.1 L1394.5,1934.3 L1397.5,1933.4 L1400.5,1932.5 L1403.5,1931.6 L1406.5,1930.7 L1409.5,1929.7 L1412.5,1928.7 L1415.5,1927.7 L1418.5,1926.7 L1421.5,1925.6 L1424.5,1924.4 L1427.5,1923.3 L1430.5,1922.1 L1433.5,1920.9 L1436.5,1919.6 L1439.5,1918.3 L1442.5,1917.0 L1445.5,1915.7 L1448.5,1914.3 L1451.5,1912.9 L1454.5,1911.5 L1457.5,1910.0 L1460.5,1908.5 L1463.5,1907.0 L1466.5,1905.5 L1469.5,1903.9 L1472.5,1902.3 L1475.5,1900.6 L1478.5,1899.0 L1481.5,1897.3 L1484.5,1895.6 L1487.5,1893.8 L1490.5,1892.1 L1493.5,1890.3 L1496.5,1888.5 L1499.5,1886.6 L1502.5,1884.8 L1505.5,1882.9 L1508.5,1880.9 L1511.5,1879.0 L1514.5,1877.0 L1517.5,1875.0 L1520.5,1873.0 L1523.5,1871.0 L1526.5,1868.9 L1529.5,1866.8 L1532.5,1864.7 L1535.5,1862.6 L1538.5,1860.4 L1541.5,1858.2 L1544.5,1856.0 L1547.5,1853.8 L1550.5,1851.6 L1553.5,1849.3 L1556.5,1847.0 L1559.5,1844.7 L1562.5,1842.4 L1565.5,1840.0 L1568.5,1837.6 L1571.5,1835.2 L1574.5,1832.8 L1577.5,1830.4 L1580.5,1827.9 L1583.5,1825.4 L1586.5,1823.0 L1589.5,1820.4 L1592.5,1817.9 L1595.5,1815.3 L1598.5,1812.8 L1601.5,1810.2 L1604.5,1807.6 L1607.5,1804.9 L1610.5,1802.3 L1613.5,1799.6 L1616.5,1796.9 L1619.5,1794.2 L1622.5,1791.5 L1625.5,1788.7 L1628.5,1786.0 L1631.5,1783.2 L1634.5,1780.4 L1637.5,1777.6 L1640.5,1774.8 L1643.5,1771.9 L1646.5,1769.1 L1649.5,1766.2 L1652.5,1763.3 L1655.5,1760.4 L1658.5,1757.5 L1661.5,1754.6 L1664.5,1751.7 L1667.5,1748.7 L1670.5,1745.8 L1673.5,1742.8 L1676.5,1739.8 L1679.5,1736.8 L1682.5,1733.8 L1685.5,1730.8 L1688.5,1727.8 L1691.5,1724.7 L1694.5,1721.7 L1697.5,1718.6 L1700.5,1715.6 L1703.5,1712.5 L1706.5,1709.4 L1709.5,1706.4 L1712.5,1703.3 L1715.5,1700.2 L1718.5,1697.1 L1721.5,1694.0 L1724.5,1690.9 L1727.5,1687.7 L1730.5,1684.6 L1733.5,1681.5 L1736.5,1678.4 L1739.5,1675.3 L1742.5,1672.1 L1745.5,1669.0 L1748.5,1665.9 L1751.5,1662.7 L1754.5,1659.6 L1757.5,1656.5 L1760.5,1653.3 L1763.5,1650.2 L1766.5,1647.0 L1769.5,1643.9 L1772.5,1640.8 L1775.5,1637.6 L1778.5,1634.5 L1781.5,1631.3 L1784.5,1628.2 L1787.5,1625.1 L1790.5,1621.9 L1793.5,1618.8 L1796.5,1615.7 L1799.5,1612.5 L1802.5,1609.4 L1805.5,1606.3 L1808.5,1603.2 L1811.5,1600.0 L1814.5,1596.9 L1817.5,1593.8 L1820.5,1590.7 L1823.5,1587.6 L1826.5,1584.5 L1829.5,1581.4 L1832.5,1578.3 L1835.5,1575.2 L1838.5,1572.1 L1841.5,1569.0 L1844.5,1565.9 L1847.5,1562.8 L1850.5,1559.8 L1853.5,1556.7 L1856.5,1553.6 L1859.5,1550.6 L1862.5,1547.5 L1865.5,1544.5 L1868.5,1541.5 L1871.5,1538.4 L1874.5,1535.4 L1877.5,1532.4 L1880.5,1529.4 L1883.5,1526.4 L1886.5,1523.4 L1889.5,1520.4 L1892.5,1517.5 L1895.5,1514.5 L1898.5,1511.5 L1901.5,1508.6 L1904.5,1505.7 L1907.5,1502.7 L1910.5,1499.8 L1913.5,1496.9 L1916.5,1494.0 L1919.5,1491.2 L1922.5,1488.3 L1925.5,1485.5 L1928.5,1482.6 L1931.5,1479.8 L1934.5,1477.0 L1937.5,1474.2 L1940.5,1471.4 L1943.5,1468.6 L1946.5,1465.9 L1949.5,1463.2 L1952.5,1460.4 L1955.5,1457.7 L1958.5,1455.1 L1961.5,1452.4 L1964.5,1449.7 L1967.5,1447.1 L1970.5,1444.5 L1973.5,1441.9 L1976.5,1439.3 L1979.5,1436.7 L1982.5,1434.2 L1985.5,1431.6 L1988.5,1429.1 L1991.5,1426.6 L1994.5,1424.1 L1997.5,1421.7 L2000.5,1419.2 L2003.5,1416.8 L2006.5,1414.4 L2009.5,1412.0 L2012.5,1409.7 L2015.5,1407.3 L2018.5,1405.0 L2021.5,1402.7 L2024.5,1400.4 L2027.5,1398.2 L2030.5,1395.9 L2033.5,1393.7 L2036.5,1391.5 L2039.5,1389.3 L2042.5,1387.1 L2045.5,1385.0 L2048.5,1382.9 L2051.5,1380.8 L2054.5,1378.7 L2057.5,1376.6 L2060.5,1374.6 L2063.5,1372.6 L2066.5,1370.6 L2069.5,1368.6 L2072.5,1366.6 L2075.5,1364.7 L2078.5,1362.8 L2081.5,1360.9 L2084.5,1359.1 L2087.5,1357.2 L2090.5,1355.4 L2093.5,1353.6 L2096.5,1351.8 L2099.5,1350.1 L2102.5,1348.4 L2105.5,1346.7 L2108.5,1345.0 L2111.5,1343.3 L2114.5,1341.7 L2117.5,1340.1 L2120.5,1338.5 L2123.5,1337.0 L2126.5,1335.4 L2129.5,1333.9 L2132.5,1332.5 L2135.5,1331.0 L2138.5,1329.6 L2141.5,1328.2 L2144.5,1326.8 L2147.5,1325.5 L2150.5,1324.2 L2153.5,1322.9 L2156.5,1321.6 L2159.5,1320.4 L2162.5,1319.2 L2165.5,1318.0 L2168.5,1316.8 L2171.5,1315.7 L2174.5,1314.6 L2177.5,1313.6 L2180.5,1312.5 L2183.5,1311.5 L2186.5,1310.6 L2189.5,1309.6 L2192.5,1308.7 L2195.5,1307.8 L2198.5,1306.9 L2201.5,1306.1 L2204.5,1305.3 L2207.5,1304.5 L2210.5,1303.8 L2213.5,1303.1 L2216.5,1302.4 L2219.5,1301.7 L2222.5,1301.1 L2225.5,1300.5 L2228.5,1299.9 L2231.5,1299.4 L2234.5,1298.9 L2237.5,1298.4 L2240.5,1297.9 L2243.5,1297.5 L2246.5,1297.1 L2249.5,1296.8 L2252.5,1296.4 L2255.5,1296.1 L2258.5,1295.8 L2261.5,1295.6 L2264.5,1295.4 L2267.5,1295.2 L2270.5,1295.0 L2273.5,1294.9 L2276.5,1294.7 L2279.5,1294.7 L2282.5,1294.6 L2285.5,1294.6 L2286.5,1294.6" fill="none" stroke="#0000a0" stroke-width="11.5" stroke-linejoin="round" stroke-dasharray="45 34.16 1 34.16" stroke-dashoffset="4.52" stroke-linecap="round"/>
<text class="t" font-size="88" text-anchor="end" transform="translate(330.5,914.5) scale(0.945,1)">0.0<tspan dx="-1.8">0</tspan></text>
<text class="t" font-size="88" text-anchor="end" transform="translate(330.5,570) scale(0.945,1)">0.0<tspan dx="-1.8">2</tspan></text>
<text class="t" font-size="88" text-anchor="end" transform="translate(330.5,225.5) scale(0.945,1)">0.0<tspan dx="-1.8">4</tspan></text>
<text class="t" font-size="88" text-anchor="end" transform="translate(331.5,2040) scale(0.945,1)">0.0</text>
<text class="t" font-size="88" text-anchor="end" transform="translate(331.5,1752) scale(0.945,1)">0.2</text>
<text class="t" font-size="88" text-anchor="end" transform="translate(331.5,1464) scale(0.945,1)">0.4</text>
<text class="t" font-size="88" text-anchor="end" transform="translate(331.5,1176) scale(0.945,1)">0.6</text>
<text class="t" font-size="88" text-anchor="middle" transform="translate(356.5,976) scale(0.945,1)">0.0</text>
<text class="t" font-size="88" text-anchor="middle" transform="translate(356.5,2103) scale(0.945,1)">0.0</text>
<text class="t" font-size="88" text-anchor="middle" transform="translate(840.75,976) scale(0.945,1)">0.5</text>
<text class="t" font-size="88" text-anchor="middle" transform="translate(839,2103) scale(0.945,1)">0.5</text>
<text class="t" font-size="88" x="-57.97 -12.22" clip-path="url(#one)" transform="translate(1325,976) scale(0.945,1)">1.0</text>
<text class="t" font-size="88" x="-57.97 -12.22" clip-path="url(#one)" transform="translate(1321.5,2103) scale(0.945,1)">1.0</text>
<text class="t" font-size="88" x="-57.97 -12.22" clip-path="url(#one)" transform="translate(1809.25,976) scale(0.945,1)">1.5</text>
<text class="t" font-size="88" x="-57.97 -12.22" clip-path="url(#one)" transform="translate(1804,2103) scale(0.945,1)">1.5</text>
<text class="t" font-size="88" text-anchor="middle" transform="translate(2293.5,976) scale(0.945,1)">2.0</text>
<text class="t" font-size="88" text-anchor="middle" transform="translate(2286.5,2103) scale(0.945,1)">2.0</text>
<text class="t" font-size="80" x="373" y="101">(a)</text>
<text class="t" font-size="80" x="378.5" y="1221">(b)</text>
<text y="1095"><tspan class="g" font-size="90" x="1267">&#x3D5;</tspan><tspan class="t" font-size="92" style="stroke:none" x="1311.5">/</tspan><tspan class="g" font-size="91" x="1337">&#x3C0;</tspan></text>
<text y="2226"><tspan class="g" font-size="90" x="1262">&#x3D5;</tspan><tspan class="t" font-size="92" style="stroke:none" x="1308.5">/</tspan><tspan class="g" font-size="91" x="1334.5">&#x3C0;</tspan></text>
<text class="t" font-style="italic" transform="translate(86,487.5) rotate(-90)"><tspan font-size="92">E</tspan><tspan font-size="64" dx="-3" dy="25">N</tspan></text>
<text class="t" font-style="italic" transform="translate(129.5,1611) rotate(-90)"><tspan font-size="92">E</tspan><tspan font-size="64" dx="-3" dy="25">N</tspan></text>
</svg></body></html>
